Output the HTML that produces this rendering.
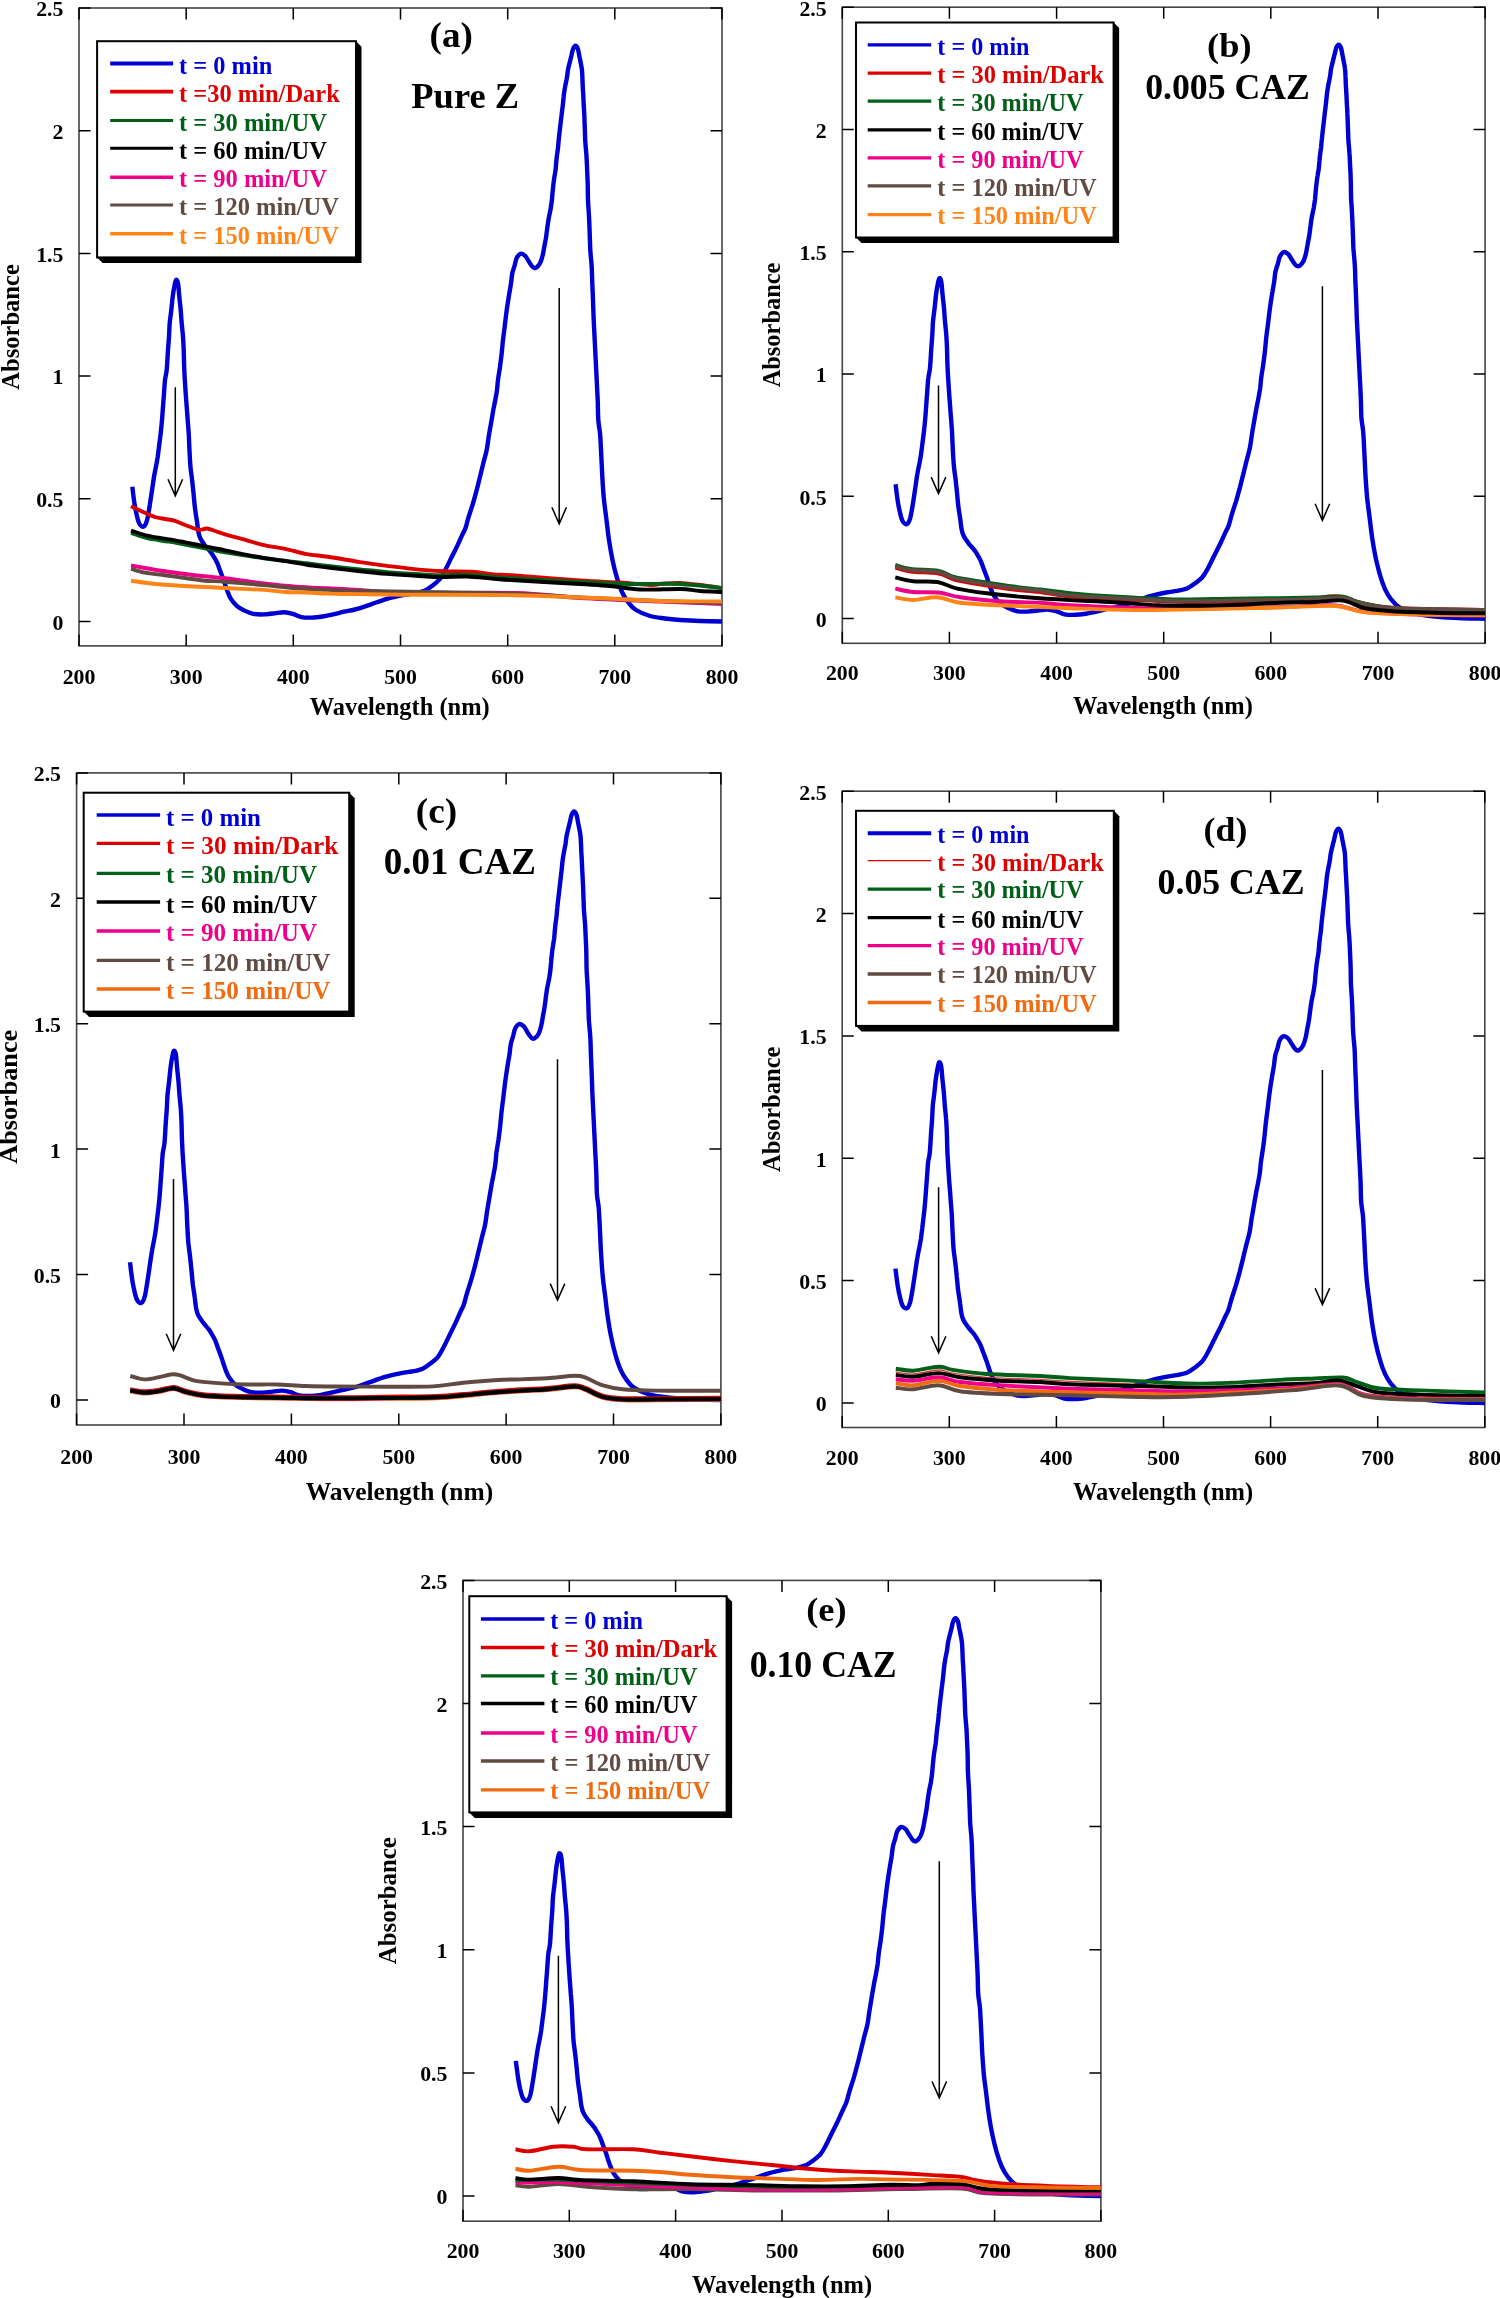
<!DOCTYPE html>
<html><head><meta charset="utf-8"><title>Absorbance spectra</title>
<style>html,body{margin:0;padding:0;background:#fff;}svg{display:block;will-change:transform;}</style></head>
<body>
<svg width="1500" height="2298" viewBox="0 0 1500 2298" font-family='"Liberation Serif", serif' font-weight="bold">
<rect width="1500" height="2298" fill="#fff"/>
<rect x="79.0" y="8.0" width="643.0" height="637.9" fill="none" stroke="#444" stroke-width="1.6"/>
<path d="M79.0,645.9V634.4M79.0,8.0V19.5M186.2,645.9V634.4M186.2,8.0V19.5M293.3,645.9V634.4M293.3,8.0V19.5M400.5,645.9V634.4M400.5,8.0V19.5M507.7,645.9V634.4M507.7,8.0V19.5M614.8,645.9V634.4M614.8,8.0V19.5M722.0,645.9V634.4M722.0,8.0V19.5M79.0,621.4H90.5M722.0,621.4H710.5M79.0,498.7H90.5M722.0,498.7H710.5M79.0,376.0H90.5M722.0,376.0H710.5M79.0,253.4H90.5M722.0,253.4H710.5M79.0,130.7H90.5M722.0,130.7H710.5M79.0,8.0H90.5M722.0,8.0H710.5" stroke="#000" stroke-width="1.5" fill="none"/>
<text x="79.0" y="684.0" font-size="21.8" text-anchor="middle">200</text>
<text x="186.2" y="684.0" font-size="21.8" text-anchor="middle">300</text>
<text x="293.3" y="684.0" font-size="21.8" text-anchor="middle">400</text>
<text x="400.5" y="684.0" font-size="21.8" text-anchor="middle">500</text>
<text x="507.7" y="684.0" font-size="21.8" text-anchor="middle">600</text>
<text x="614.8" y="684.0" font-size="21.8" text-anchor="middle">700</text>
<text x="722.0" y="684.0" font-size="21.8" text-anchor="middle">800</text>
<text x="63.4" y="629.8" font-size="21.8" text-anchor="end">0</text>
<text x="63.4" y="507.1" font-size="21.8" text-anchor="end">0.5</text>
<text x="63.4" y="384.4" font-size="21.8" text-anchor="end">1</text>
<text x="63.4" y="261.8" font-size="21.8" text-anchor="end">1.5</text>
<text x="63.4" y="139.1" font-size="21.8" text-anchor="end">2</text>
<text x="63.4" y="16.4" font-size="21.8" text-anchor="end">2.5</text>
<path d="M132.3,486.7C132.5,488.1 132.9,491.9 133.3,495.0C133.7,498.1 134.1,501.7 134.7,505.0C135.3,508.3 136.0,512.0 136.7,515.0C137.4,518.0 138.2,521.1 139.0,523.0C139.8,524.9 140.8,525.8 141.7,526.3C142.6,526.8 143.8,526.7 144.7,525.7C145.6,524.7 146.3,522.6 147.0,520.3C147.7,518.0 148.2,514.8 148.7,511.7C149.3,508.6 149.7,505.6 150.3,501.7C150.9,497.8 151.6,492.8 152.3,488.3C153.0,483.9 153.6,478.9 154.3,475.0C155.0,471.1 155.7,468.0 156.3,465.0C156.9,462.0 157.2,460.1 157.7,457.0C158.1,453.9 158.5,450.6 159.0,446.7C159.5,442.8 160.2,437.8 160.7,433.3C161.2,428.9 161.6,424.4 162.0,420.0C162.4,415.6 162.7,411.1 163.0,406.7C163.3,402.2 163.7,397.8 164.0,393.3C164.3,388.9 164.6,383.9 165.0,380.0C165.4,376.1 166.2,375.0 166.7,370.0C167.2,365.0 167.6,355.6 168.0,350.0C168.4,344.4 168.7,341.1 169.0,336.7C169.3,332.2 169.3,327.8 169.7,323.3C170.1,318.9 170.8,314.4 171.3,310.0C171.8,305.6 172.2,300.6 172.7,296.7C173.2,292.8 173.7,289.5 174.3,286.7C174.8,283.9 175.4,280.6 176.0,280.0C176.6,279.4 177.4,280.5 178.0,283.3C178.6,286.1 178.8,292.2 179.3,296.7C179.7,301.1 180.3,305.6 180.7,310.0C181.1,314.4 181.3,318.9 181.7,323.3C182.1,327.8 182.7,332.2 183.0,336.7C183.3,341.1 183.5,344.4 183.7,350.0C183.9,355.6 184.0,362.8 184.3,370.0C184.6,377.2 185.3,387.2 185.7,393.3C186.1,399.4 186.4,402.2 186.7,406.7C187.0,411.1 187.4,415.6 187.7,420.0C188.0,424.4 188.4,428.9 188.7,433.3C189.0,437.8 189.1,442.2 189.3,446.7C189.5,451.1 189.8,456.4 190.0,460.0C190.2,463.6 190.2,464.7 190.6,468.3C191.0,471.9 191.8,477.2 192.3,481.7C192.8,486.1 193.2,490.6 193.7,495.0C194.1,499.4 194.4,503.9 195.0,508.3C195.5,512.8 196.4,517.8 197.0,521.7C197.6,525.6 197.8,528.9 198.3,531.7C198.9,534.5 199.2,536.0 200.3,538.3C201.4,540.6 203.3,543.3 205.0,545.5C206.7,547.7 209.0,550.1 210.3,551.7C211.6,553.3 211.7,553.4 212.8,555.2C213.9,557.0 215.8,560.0 217.1,562.7C218.3,565.4 219.2,568.4 220.3,571.2C221.4,574.0 222.4,576.7 223.5,579.7C224.6,582.7 225.5,586.1 226.7,589.3C227.9,592.5 229.1,596.0 230.9,598.9C232.7,601.8 235.0,604.4 237.3,606.4C239.6,608.4 242.1,609.5 244.8,610.7C247.5,612.0 250.1,613.3 253.3,613.9C256.5,614.5 260.4,614.5 264.0,614.4C267.6,614.3 271.3,613.6 274.7,613.3C278.1,612.9 281.3,612.2 284.3,612.3C287.3,612.4 290.0,613.1 292.8,613.9C295.6,614.7 298.1,616.5 301.3,617.1C304.5,617.7 308.4,617.7 312.0,617.6C315.6,617.5 319.1,617.0 322.7,616.5C326.2,616.0 329.8,615.2 333.3,614.4C336.9,613.6 340.4,612.5 344.0,611.7C347.6,610.9 350.5,610.7 355.0,609.5C359.5,608.3 365.7,606.1 371.0,604.3C376.3,602.5 381.7,600.4 387.0,598.9C392.3,597.4 398.6,596.1 403.0,595.2C407.4,594.3 410.2,594.3 413.7,593.6C417.3,592.9 421.3,592.1 424.3,590.9C427.3,589.6 429.3,588.0 431.8,586.1C434.3,584.2 437.2,582.2 439.3,579.7C441.4,577.2 442.7,574.8 444.6,571.2C446.6,567.7 448.9,562.7 451.0,558.4C453.1,554.1 455.4,549.7 457.4,545.6C459.3,541.5 461.3,536.8 462.7,533.9C464.1,531.0 464.5,530.9 465.5,528.0C466.5,525.1 467.4,520.8 468.7,516.7C469.9,512.6 471.7,507.8 473.0,503.3C474.3,498.9 475.5,494.4 476.7,490.0C477.9,485.6 478.9,481.1 480.0,476.7C481.1,472.2 482.2,467.8 483.3,463.3C484.4,458.9 485.8,454.4 486.7,450.0C487.6,445.6 488.0,441.1 488.7,436.7C489.4,432.2 490.2,427.8 491.0,423.3C491.8,418.9 492.6,413.9 493.3,410.0C494.0,406.1 494.7,403.3 495.3,400.0C495.9,396.7 496.6,393.3 497.0,390.0C497.4,386.7 497.5,383.9 498.0,380.0C498.5,376.1 499.4,371.1 500.0,366.7C500.6,362.2 501.2,357.8 501.7,353.3C502.2,348.9 502.5,344.4 503.0,340.0C503.5,335.6 504.1,331.1 504.7,326.7C505.2,322.2 505.8,317.2 506.3,313.3C506.8,309.4 507.2,306.6 507.7,303.3C508.2,300.0 508.8,296.6 509.3,293.3C509.9,290.0 510.5,286.6 511.0,283.3C511.5,280.0 511.7,276.3 512.3,273.3C512.9,270.3 514.0,267.9 514.7,265.3C515.4,262.8 515.7,259.9 516.7,258.0C517.7,256.1 519.3,254.0 520.7,253.7C522.1,253.4 524.0,254.7 525.3,256.0C526.6,257.3 527.5,259.5 528.7,261.3C529.9,263.1 531.5,265.9 532.7,267.0C533.9,268.1 534.8,268.3 536.0,267.7C537.2,267.1 538.9,265.4 540.0,263.3C541.1,261.2 542.0,258.1 542.7,255.3C543.4,252.5 543.7,249.8 544.3,246.7C544.9,243.6 545.6,240.3 546.1,237.0C546.6,233.7 547.0,230.1 547.4,227.0C547.8,223.9 548.2,221.2 548.7,218.3C549.2,215.4 550.0,212.5 550.5,209.6C551.0,206.7 551.4,203.8 551.8,200.9C552.1,198.0 552.3,195.1 552.6,192.2C552.9,189.3 553.2,186.0 553.5,183.5C553.8,181.0 554.1,179.2 554.4,177.0C554.7,174.8 555.2,173.0 555.5,170.5C555.8,168.0 556.0,164.4 556.3,161.8C556.5,159.2 556.7,157.4 557.0,155.2C557.3,153.0 557.6,151.2 557.9,148.7C558.2,146.2 558.4,143.4 558.7,140.0C559.1,136.6 559.5,132.5 560.0,128.3C560.5,124.1 561.1,119.0 561.6,115.0C562.1,111.0 562.5,107.8 562.9,104.3C563.3,100.7 563.6,96.8 564.0,93.7C564.4,90.6 564.8,88.4 565.3,85.7C565.8,83.0 566.5,80.4 566.9,77.7C567.4,75.0 567.5,72.4 568.0,69.7C568.5,67.0 569.3,64.1 569.9,61.7C570.5,59.3 571.0,57.4 571.5,55.3C572.0,53.2 572.4,50.5 573.1,48.9C573.8,47.3 574.7,45.7 575.5,45.7C576.3,45.7 577.3,47.3 577.9,48.9C578.5,50.5 578.8,53.2 579.2,55.3C579.6,57.4 580.0,59.3 580.5,61.7C581.0,64.1 581.6,67.0 581.9,69.7C582.2,72.4 582.3,75.0 582.4,77.7C582.5,80.4 582.6,83.0 582.7,85.7C582.8,88.4 583.0,90.6 583.2,93.7C583.4,96.8 583.5,100.7 583.7,104.3C583.9,107.8 584.1,111.0 584.3,115.0C584.5,119.0 584.6,123.9 584.8,128.3C585.0,132.8 585.0,137.2 585.3,141.7C585.6,146.1 586.1,150.8 586.4,155.0C586.7,159.2 586.8,162.0 587.0,166.7C587.2,171.4 587.5,177.8 587.7,183.3C587.9,188.9 587.8,194.4 588.0,200.0C588.2,205.6 588.7,211.1 589.0,216.7C589.3,222.2 589.5,227.8 589.7,233.3C589.9,238.9 590.0,244.4 590.3,250.0C590.6,255.6 591.4,261.1 591.7,266.7C592.0,272.2 592.1,277.8 592.3,283.3C592.5,288.9 592.8,293.9 593.0,300.0C593.2,306.1 593.4,313.3 593.7,320.0C594.0,326.7 594.4,333.3 594.7,340.0C595.0,346.7 595.4,353.3 595.7,360.0C596.0,366.7 596.4,373.3 596.7,380.0C597.0,386.7 597.4,393.3 597.7,400.0C598.0,406.7 597.9,414.4 598.3,420.0C598.7,425.6 599.5,428.3 600.0,433.3C600.5,438.3 600.8,445.6 601.0,450.0C601.3,454.4 601.2,455.0 601.5,460.0C601.8,465.0 602.1,473.3 602.5,480.0C602.9,486.7 603.3,493.3 604.0,500.0C604.7,506.7 605.7,513.3 606.5,520.0C607.3,526.7 608.0,533.3 609.0,540.0C610.0,546.7 611.2,553.7 612.5,560.0C613.8,566.3 615.4,572.7 617.0,578.0C618.6,583.3 620.2,588.0 622.0,592.0C623.8,596.0 625.7,599.0 628.0,602.0C630.3,605.0 632.3,607.7 636.0,610.0C639.7,612.3 645.2,614.6 650.0,616.0C654.8,617.4 660.0,617.8 665.0,618.5C670.0,619.2 674.2,619.6 680.0,620.0C685.8,620.4 693.0,620.8 700.0,621.0C707.0,621.2 718.3,621.4 722.0,621.5" stroke="#0000d2" stroke-width="4.4" fill="none" stroke-linejoin="round" stroke-linecap="butt"/>
<path d="M131.0,506.3C132.2,506.9 135.6,508.5 138.3,509.7C141.0,510.9 144.2,512.5 147.0,513.7C149.8,514.9 152.0,516.1 155.0,517.0C158.0,517.9 161.8,518.4 165.0,519.0C168.2,519.6 171.0,519.7 174.3,520.7C177.6,521.7 181.6,523.7 185.0,525.0C188.4,526.3 192.6,527.9 195.0,528.7C197.4,529.5 197.7,530.0 199.7,530.0C201.7,530.0 204.4,528.3 207.0,528.5C209.6,528.7 212.0,530.0 215.0,531.0C218.0,532.0 220.4,532.9 225.0,534.3C229.6,535.7 236.2,537.4 242.7,539.2C249.2,541.0 256.9,543.5 264.0,545.1C271.1,546.7 278.2,547.3 285.3,548.8C292.4,550.3 299.6,552.8 306.7,554.1C313.8,555.4 319.1,555.5 328.0,556.8C336.9,558.1 350.2,560.6 360.0,562.1C369.8,563.6 377.2,564.6 387.0,565.9C396.8,567.1 409.4,568.7 419.0,569.6C428.6,570.5 435.7,570.9 444.6,571.2C453.5,571.6 464.1,571.2 472.3,571.7C480.5,572.2 486.6,573.8 493.7,574.4C500.8,575.0 500.6,574.5 515.0,575.5C529.4,576.5 562.5,579.3 580.0,580.5C597.5,581.7 608.3,581.8 620.0,582.5C631.7,583.2 642.5,584.8 650.0,585.0C657.5,585.2 660.0,583.8 665.0,583.5C670.0,583.2 674.2,582.8 680.0,583.0C685.8,583.2 693.0,584.2 700.0,585.0C707.0,585.8 718.3,587.5 722.0,588.0" stroke="#dc0000" stroke-width="3.9" fill="none" stroke-linejoin="round" stroke-linecap="butt"/>
<path d="M131.0,533.0C132.2,533.4 135.6,534.5 138.3,535.3C141.0,536.1 143.7,537.2 147.0,538.0C150.3,538.8 153.6,539.2 158.3,540.0C163.0,540.8 170.6,541.9 175.0,542.6C179.4,543.4 181.1,543.8 185.0,544.5C188.9,545.2 193.9,546.1 198.3,547.0C202.8,547.9 207.2,548.8 211.7,549.7C216.1,550.6 216.3,550.9 225.0,552.3C233.7,553.7 250.4,556.5 264.0,558.3C277.6,560.1 296.0,562.0 306.7,563.3C317.4,564.6 319.1,565.0 328.0,566.0C336.9,567.0 350.2,568.4 360.0,569.4C369.8,570.4 377.2,571.3 387.0,572.1C396.8,572.9 410.1,573.7 419.0,574.2C427.9,574.7 432.3,575.2 440.3,575.3C448.3,575.4 458.1,574.4 467.0,574.7C475.9,575.0 485.7,576.3 493.7,576.9C501.7,577.5 500.6,577.6 515.0,578.5C529.4,579.4 560.8,581.1 580.0,582.0C599.2,582.9 613.3,583.7 630.0,584.0C646.7,584.3 664.7,583.3 680.0,584.0C695.3,584.7 715.0,587.3 722.0,588.0" stroke="#006018" stroke-width="3.9" fill="none" stroke-linejoin="round" stroke-linecap="butt"/>
<path d="M131.0,530.7C132.2,531.1 135.6,532.2 138.3,533.0C141.0,533.8 143.7,534.9 147.0,535.7C150.3,536.5 153.6,536.9 158.3,537.7C163.0,538.5 170.6,539.5 175.0,540.3C179.4,541.1 181.1,541.5 185.0,542.3C188.9,543.1 193.9,544.1 198.3,545.0C202.8,545.9 207.2,546.8 211.7,547.7C216.1,548.6 219.8,549.2 225.0,550.3C230.2,551.4 236.2,552.8 242.7,554.1C249.2,555.4 256.9,556.7 264.0,557.9C271.1,559.1 278.2,560.0 285.3,561.1C292.4,562.2 299.6,563.7 306.7,564.8C313.8,565.9 319.1,566.4 328.0,567.5C336.9,568.6 350.2,570.1 360.0,571.2C369.8,572.3 377.2,573.1 387.0,573.9C396.8,574.7 410.1,575.5 419.0,576.0C427.9,576.5 432.3,577.0 440.3,577.1C448.3,577.2 458.1,576.2 467.0,576.5C475.9,576.8 485.7,578.1 493.7,578.7C501.7,579.3 500.6,579.4 515.0,580.3C529.4,581.2 564.2,583.0 580.0,584.0C595.8,585.0 600.0,585.1 610.0,586.0C620.0,586.9 628.3,589.0 640.0,589.5C651.7,590.0 670.0,588.8 680.0,589.0C690.0,589.2 693.0,590.5 700.0,591.0C707.0,591.5 718.3,591.8 722.0,592.0" stroke="#000000" stroke-width="3.9" fill="none" stroke-linejoin="round" stroke-linecap="butt"/>
<path d="M131.0,565.3C133.3,565.8 139.3,567.0 145.0,568.0C150.7,569.0 158.3,570.3 165.0,571.3C171.7,572.3 178.3,573.2 185.0,574.0C191.7,574.8 198.3,575.6 205.0,576.3C211.7,577.0 215.2,577.1 225.0,578.3C234.8,579.5 252.2,582.1 264.0,583.5C275.8,584.9 285.3,585.9 296.0,586.7C306.7,587.5 317.3,587.8 328.0,588.3C338.7,588.8 347.5,589.1 360.0,589.9C372.5,590.7 377.2,592.5 403.0,593.0C428.8,593.5 485.5,592.2 515.0,593.0C544.5,593.8 555.8,596.6 580.0,598.0C604.2,599.4 640.0,600.7 660.0,601.5C680.0,602.3 689.7,602.6 700.0,603.0C710.3,603.4 718.3,603.8 722.0,604.0" stroke="#ee0088" stroke-width="3.9" fill="none" stroke-linejoin="round" stroke-linecap="butt"/>
<path d="M131.0,568.7C133.3,569.4 139.3,571.6 145.0,572.7C150.7,573.8 158.3,574.4 165.0,575.3C171.7,576.2 178.3,577.1 185.0,578.0C191.7,578.9 198.3,580.1 205.0,580.7C211.7,581.3 215.2,581.0 225.0,581.7C234.8,582.4 252.2,584.0 264.0,585.1C275.8,586.2 285.3,587.5 296.0,588.3C306.7,589.1 317.3,589.4 328.0,589.9C338.7,590.4 328.8,590.4 360.0,591.0C391.2,591.6 478.3,592.5 515.0,593.6C551.7,594.7 555.8,596.3 580.0,597.5C604.2,598.7 636.3,600.1 660.0,601.0C683.7,601.9 711.7,602.7 722.0,603.0" stroke="#604a42" stroke-width="3.9" fill="none" stroke-linejoin="round" stroke-linecap="butt"/>
<path d="M131.0,580.7C133.3,581.0 139.3,582.0 145.0,582.7C150.7,583.4 158.3,584.2 165.0,584.7C171.7,585.2 178.3,585.6 185.0,586.0C191.7,586.4 198.3,586.7 205.0,587.0C211.7,587.3 215.2,587.5 225.0,588.0C234.8,588.5 253.9,589.2 264.0,589.9C274.1,590.6 278.2,591.6 285.3,592.0C292.4,592.4 299.6,592.2 306.7,592.5C313.8,592.8 319.1,593.3 328.0,593.6C336.9,593.9 347.5,593.9 360.0,594.1C372.5,594.3 377.2,594.5 403.0,594.7C428.8,594.9 485.5,594.7 515.0,595.2C544.5,595.7 562.5,596.9 580.0,597.5C597.5,598.1 606.7,598.4 620.0,599.0C633.3,599.6 643.0,600.6 660.0,601.0C677.0,601.4 711.7,601.4 722.0,601.5" stroke="#ff8418" stroke-width="3.9" fill="none" stroke-linejoin="round" stroke-linecap="butt"/>
<rect x="842.3" y="7.2" width="642.8" height="636.1" fill="none" stroke="#444" stroke-width="1.6"/>
<path d="M842.3,643.3V631.8M842.3,7.2V18.7M949.4,643.3V631.8M949.4,7.2V18.7M1056.6,643.3V631.8M1056.6,7.2V18.7M1163.7,643.3V631.8M1163.7,7.2V18.7M1270.8,643.3V631.8M1270.8,7.2V18.7M1378.0,643.3V631.8M1378.0,7.2V18.7M1485.1,643.3V631.8M1485.1,7.2V18.7M842.3,618.6H853.8M1485.1,618.6H1473.6M842.3,496.3H853.8M1485.1,496.3H1473.6M842.3,374.0H853.8M1485.1,374.0H1473.6M842.3,251.8H853.8M1485.1,251.8H1473.6M842.3,129.5H853.8M1485.1,129.5H1473.6M842.3,7.2H853.8M1485.1,7.2H1473.6" stroke="#000" stroke-width="1.5" fill="none"/>
<text x="842.3" y="679.9" font-size="21.8" text-anchor="middle">200</text>
<text x="949.4" y="679.9" font-size="21.8" text-anchor="middle">300</text>
<text x="1056.6" y="679.9" font-size="21.8" text-anchor="middle">400</text>
<text x="1163.7" y="679.9" font-size="21.8" text-anchor="middle">500</text>
<text x="1270.8" y="679.9" font-size="21.8" text-anchor="middle">600</text>
<text x="1378.0" y="679.9" font-size="21.8" text-anchor="middle">700</text>
<text x="1485.1" y="679.9" font-size="21.8" text-anchor="middle">800</text>
<text x="826.7" y="627.0" font-size="21.8" text-anchor="end">0</text>
<text x="826.7" y="504.7" font-size="21.8" text-anchor="end">0.5</text>
<text x="826.7" y="382.4" font-size="21.8" text-anchor="end">1</text>
<text x="826.7" y="260.2" font-size="21.8" text-anchor="end">1.5</text>
<text x="826.7" y="137.9" font-size="21.8" text-anchor="end">2</text>
<text x="826.7" y="15.6" font-size="21.8" text-anchor="end">2.5</text>
<path d="M895.6,484.3C895.8,485.7 896.2,489.6 896.6,492.6C897.0,495.7 897.4,499.3 898.0,502.6C898.5,505.9 899.3,509.6 900.0,512.5C900.7,515.5 901.4,518.6 902.3,520.5C903.1,522.4 904.0,523.4 905.0,523.8C905.9,524.3 907.1,524.2 908.0,523.2C908.9,522.2 909.6,520.2 910.3,517.8C910.9,515.5 911.4,512.3 912.0,509.3C912.5,506.2 913.0,503.2 913.6,499.3C914.2,495.4 914.9,490.4 915.6,485.9C916.2,481.5 916.9,476.5 917.6,472.7C918.2,468.8 919.0,465.7 919.6,462.7C920.1,459.7 920.5,457.8 921.0,454.7C921.4,451.7 921.8,448.4 922.3,444.5C922.8,440.5 923.5,435.5 924.0,431.1C924.5,426.7 924.9,422.3 925.3,417.9C925.7,413.4 925.9,409.0 926.3,404.6C926.6,400.2 926.9,395.7 927.3,391.2C927.6,386.8 927.8,381.9 928.3,378.0C928.7,374.1 929.5,373.0 930.0,368.0C930.5,363.0 930.9,353.6 931.3,348.1C931.7,342.6 932.0,339.3 932.3,334.8C932.6,330.4 932.6,325.9 933.0,321.5C933.4,317.0 934.1,312.6 934.6,308.2C935.1,303.8 935.5,298.8 936.0,295.0C936.5,291.1 937.0,287.8 937.6,285.0C938.1,282.2 938.7,278.9 939.3,278.3C939.9,277.7 940.7,278.8 941.3,281.6C941.8,284.4 942.1,290.5 942.6,295.0C943.0,299.4 943.6,303.8 944.0,308.2C944.4,312.6 944.6,317.0 945.0,321.5C945.4,325.9 945.9,330.4 946.3,334.8C946.6,339.3 946.8,342.6 947.0,348.1C947.2,353.6 947.2,360.8 947.6,368.0C947.9,375.2 948.6,385.1 949.0,391.2C949.4,397.3 949.6,400.2 950.0,404.6C950.3,409.0 950.6,413.4 951.0,417.9C951.3,422.3 951.7,426.7 952.0,431.1C952.2,435.5 952.3,440.0 952.6,444.5C952.8,448.9 953.0,454.1 953.3,457.7C953.5,461.3 953.5,462.4 953.9,466.0C954.2,469.6 955.0,474.9 955.6,479.4C956.1,483.8 956.5,488.2 957.0,492.6C957.4,497.0 957.7,501.4 958.3,505.9C958.8,510.3 959.7,515.3 960.3,519.2C960.8,523.1 961.0,526.4 961.6,529.2C962.1,532.0 962.4,533.5 963.6,535.8C964.7,538.1 966.6,540.7 968.3,542.9C969.9,545.2 972.3,547.5 973.6,549.1C974.9,550.7 974.9,550.8 976.1,552.6C977.2,554.4 979.1,557.4 980.4,560.1C981.6,562.7 982.5,565.7 983.6,568.6C984.6,571.4 985.7,574.0 986.8,577.0C987.8,580.0 988.7,583.4 990.0,586.6C991.2,589.8 992.4,593.3 994.2,596.2C995.9,599.0 998.2,601.7 1000.6,603.6C1002.9,605.6 1005.4,606.7 1008.0,607.9C1010.7,609.2 1013.3,610.5 1016.5,611.1C1019.7,611.7 1023.7,611.7 1027.2,611.6C1030.8,611.5 1034.6,610.9 1037.9,610.5C1041.3,610.2 1044.5,609.4 1047.5,609.5C1050.6,609.6 1053.2,610.3 1056.0,611.1C1058.9,611.9 1061.3,613.7 1064.5,614.3C1067.7,614.9 1071.7,614.9 1075.2,614.8C1078.8,614.7 1082.4,614.2 1085.9,613.7C1089.5,613.2 1093.0,612.4 1096.5,611.6C1100.1,610.8 1103.6,609.7 1107.2,608.9C1110.8,608.1 1113.7,608.0 1118.2,606.7C1122.7,605.5 1128.9,603.3 1134.2,601.6C1139.5,599.8 1144.9,597.7 1150.2,596.2C1155.5,594.7 1161.8,593.4 1166.2,592.5C1170.6,591.6 1173.3,591.6 1176.9,590.9C1180.4,590.2 1184.5,589.4 1187.5,588.2C1190.5,587.0 1192.5,585.3 1195.0,583.4C1197.5,581.6 1200.4,579.5 1202.5,577.0C1204.6,574.6 1205.8,572.1 1207.8,568.6C1209.7,565.0 1212.1,560.1 1214.2,555.8C1216.3,551.6 1218.6,547.1 1220.6,543.0C1222.5,539.0 1224.5,534.3 1225.9,531.4C1227.2,528.5 1227.7,528.4 1228.7,525.5C1229.7,522.6 1230.6,518.3 1231.9,514.2C1233.1,510.1 1234.8,505.3 1236.2,500.9C1237.5,496.4 1238.7,492.0 1239.9,487.6C1241.0,483.2 1242.1,478.8 1243.2,474.4C1244.3,469.9 1245.4,465.5 1246.5,461.0C1247.6,456.6 1249.0,452.2 1249.9,447.8C1250.8,443.3 1251.2,438.9 1251.9,434.5C1252.6,430.1 1253.4,425.6 1254.2,421.1C1254.9,416.7 1255.8,411.8 1256.5,407.9C1257.2,404.0 1257.9,401.2 1258.5,397.9C1259.1,394.6 1259.7,391.3 1260.2,388.0C1260.6,384.6 1260.7,381.9 1261.2,378.0C1261.7,374.1 1262.6,369.2 1263.2,364.7C1263.8,360.3 1264.4,355.8 1264.9,351.4C1265.4,346.9 1265.7,342.5 1266.2,338.1C1266.7,333.7 1267.3,329.3 1267.9,324.9C1268.4,320.4 1269.0,315.4 1269.5,311.5C1270.0,307.6 1270.4,304.9 1270.9,301.5C1271.4,298.2 1271.9,294.9 1272.5,291.6C1273.0,288.2 1273.7,284.9 1274.2,281.6C1274.7,278.3 1274.8,274.6 1275.5,271.6C1276.1,268.6 1277.1,266.2 1277.9,263.7C1278.6,261.1 1278.9,258.3 1279.9,256.4C1280.9,254.5 1282.4,252.4 1283.9,252.1C1285.3,251.8 1287.1,253.1 1288.5,254.4C1289.8,255.7 1290.6,257.8 1291.9,259.7C1293.1,261.5 1294.6,264.3 1295.9,265.4C1297.1,266.4 1297.9,266.7 1299.2,266.1C1300.4,265.4 1302.0,263.7 1303.2,261.7C1304.3,259.6 1305.1,256.5 1305.9,253.7C1306.6,250.9 1306.9,248.2 1307.5,245.1C1308.0,242.1 1308.7,238.7 1309.3,235.5C1309.8,232.2 1310.1,228.6 1310.6,225.5C1311.0,222.4 1311.3,219.7 1311.9,216.8C1312.4,213.9 1313.1,211.0 1313.7,208.1C1314.2,205.3 1314.6,202.4 1315.0,199.5C1315.3,196.6 1315.5,193.7 1315.8,190.8C1316.0,187.9 1316.4,184.7 1316.7,182.1C1317.0,179.6 1317.2,177.8 1317.6,175.6C1317.9,173.5 1318.3,171.7 1318.7,169.2C1319.0,166.6 1319.2,163.0 1319.5,160.5C1319.7,158.0 1319.9,156.1 1320.2,153.9C1320.4,151.7 1320.8,150.0 1321.1,147.4C1321.3,144.9 1321.5,142.2 1321.9,138.8C1322.2,135.4 1322.7,131.3 1323.2,127.1C1323.6,123.0 1324.3,117.8 1324.7,113.9C1325.2,109.9 1325.6,106.7 1326.0,103.2C1326.4,99.6 1326.7,95.7 1327.1,92.6C1327.5,89.5 1328.0,87.3 1328.4,84.6C1328.9,82.0 1329.6,79.3 1330.0,76.7C1330.5,74.0 1330.6,71.4 1331.1,68.7C1331.6,66.0 1332.5,63.1 1333.0,60.7C1333.6,58.3 1334.1,56.5 1334.6,54.3C1335.2,52.2 1335.6,49.6 1336.2,48.0C1336.9,46.4 1337.8,44.8 1338.6,44.8C1339.4,44.8 1340.4,46.4 1341.0,48.0C1341.7,49.6 1341.9,52.2 1342.3,54.3C1342.8,56.5 1343.2,58.3 1343.6,60.7C1344.1,63.1 1344.7,66.0 1345.0,68.7C1345.4,71.4 1345.4,74.0 1345.5,76.7C1345.7,79.3 1345.7,82.0 1345.8,84.6C1346.0,87.3 1346.2,89.5 1346.3,92.6C1346.5,95.7 1346.7,99.6 1346.8,103.2C1347.0,106.7 1347.3,109.9 1347.4,113.9C1347.6,117.8 1347.8,122.7 1347.9,127.1C1348.1,131.5 1348.2,136.0 1348.4,140.5C1348.7,144.9 1349.3,149.6 1349.5,153.7C1349.8,157.9 1349.9,160.7 1350.1,165.4C1350.4,170.1 1350.7,176.4 1350.8,181.9C1351.0,187.5 1350.9,193.0 1351.1,198.6C1351.4,204.1 1351.9,209.7 1352.1,215.2C1352.4,220.8 1352.6,226.2 1352.8,231.8C1353.1,237.3 1353.1,242.9 1353.4,248.4C1353.8,254.0 1354.5,259.5 1354.8,265.1C1355.2,270.6 1355.2,276.1 1355.4,281.6C1355.7,287.1 1355.9,292.2 1356.1,298.2C1356.4,304.3 1356.6,311.5 1356.8,318.2C1357.1,324.8 1357.5,331.5 1357.8,338.1C1358.2,344.8 1358.5,351.4 1358.8,358.1C1359.2,364.7 1359.5,371.3 1359.8,378.0C1360.2,384.6 1360.6,391.3 1360.8,397.9C1361.1,404.6 1361.1,412.3 1361.4,417.9C1361.8,423.4 1362.7,426.1 1363.1,431.1C1363.6,436.1 1363.9,443.3 1364.1,447.8C1364.4,452.2 1364.4,452.7 1364.6,457.7C1364.9,462.7 1365.2,471.0 1365.6,477.7C1366.1,484.3 1366.5,491.0 1367.1,497.6C1367.8,504.2 1368.8,510.9 1369.6,517.5C1370.5,524.2 1371.1,530.8 1372.1,537.5C1373.1,544.1 1374.3,551.1 1375.6,557.4C1377.0,563.7 1378.5,570.0 1380.1,575.3C1381.7,580.7 1383.3,585.3 1385.1,589.3C1387.0,593.3 1388.8,596.3 1391.1,599.3C1393.5,602.3 1395.5,604.9 1399.1,607.2C1402.8,609.6 1408.3,611.8 1413.1,613.2C1418.0,614.6 1423.1,615.0 1428.1,615.7C1433.1,616.4 1437.3,616.8 1443.1,617.2C1448.9,617.6 1456.1,618.0 1463.1,618.2C1470.1,618.5 1481.4,618.6 1485.1,618.7" stroke="#0000d2" stroke-width="4.4" fill="none" stroke-linejoin="round" stroke-linecap="butt"/>
<path d="M895.3,567.5C897.9,568.2 903.5,570.5 910.7,571.5C917.9,572.5 931.2,572.1 938.7,573.5C946.2,574.9 948.0,578.0 956.0,580.0C964.0,582.0 977.2,583.9 986.7,585.5C996.2,587.1 1004.4,588.4 1013.3,589.5C1022.2,590.6 1030.5,590.8 1040.0,592.0C1049.5,593.2 1055.2,595.2 1070.0,596.5C1084.8,597.8 1109.2,598.6 1128.7,599.5C1148.2,600.4 1167.8,601.8 1187.3,602.0C1206.8,602.2 1230.5,601.4 1246.0,601.0C1261.5,600.6 1268.5,599.9 1280.0,599.5C1291.5,599.1 1306.8,599.0 1315.0,598.5C1323.2,598.0 1324.3,596.8 1329.0,596.5C1333.7,596.2 1338.3,596.1 1343.0,597.0C1347.7,597.9 1351.2,600.4 1357.0,602.0C1362.8,603.6 1369.8,605.4 1378.0,606.5C1386.2,607.6 1388.2,607.9 1406.0,608.5C1423.8,609.1 1471.8,609.8 1485.0,610.0" stroke="#dc0000" stroke-width="3.9" fill="none" stroke-linejoin="round" stroke-linecap="butt"/>
<path d="M895.3,565.0C897.9,565.7 903.5,568.0 910.7,569.0C917.9,570.0 931.2,569.6 938.7,571.0C946.2,572.4 948.0,575.6 956.0,577.5C964.0,579.4 977.2,581.0 986.7,582.5C996.2,584.0 1004.4,585.3 1013.3,586.5C1022.2,587.7 1030.5,588.4 1040.0,589.5C1049.5,590.6 1057.7,591.9 1070.0,593.1C1082.3,594.3 1096.9,595.5 1114.0,596.5C1131.1,597.5 1153.2,599.0 1172.7,599.4C1192.2,599.8 1213.4,598.9 1231.3,598.7C1249.2,598.5 1266.0,598.3 1280.0,598.1C1294.0,597.9 1304.5,597.7 1315.0,597.5C1325.5,597.3 1336.0,596.1 1343.0,596.8C1350.0,597.5 1351.2,600.1 1357.0,601.7C1362.8,603.3 1369.8,605.1 1378.0,606.3C1386.2,607.5 1388.2,608.2 1406.0,608.9C1423.8,609.6 1471.8,610.1 1485.0,610.3" stroke="#006018" stroke-width="3.9" fill="none" stroke-linejoin="round" stroke-linecap="butt"/>
<path d="M895.3,566.0C897.9,566.7 903.5,569.0 910.7,570.0C917.9,571.0 931.2,570.5 938.7,572.0C946.2,573.5 948.0,576.7 956.0,578.7C964.0,580.7 977.2,582.5 986.7,584.0C996.2,585.5 1004.4,586.9 1013.3,588.0C1022.2,589.1 1030.5,589.5 1040.0,590.7C1049.5,591.9 1055.2,594.1 1070.0,595.4C1084.8,596.7 1109.2,597.7 1128.7,598.7C1148.2,599.7 1167.8,601.1 1187.3,601.3C1206.8,601.5 1228.9,600.4 1246.0,600.1C1263.1,599.9 1273.8,600.1 1290.0,599.8C1306.2,599.4 1331.8,597.5 1343.0,598.0C1354.2,598.5 1351.2,601.1 1357.0,602.5C1362.8,603.9 1369.8,605.5 1378.0,606.5C1386.2,607.5 1388.2,607.9 1406.0,608.5C1423.8,609.1 1471.8,609.8 1485.0,610.0" stroke="#604a42" stroke-width="3.9" fill="none" stroke-linejoin="round" stroke-linecap="butt"/>
<path d="M895.3,588.7C898.3,589.2 905.8,591.3 913.3,592.0C920.8,592.7 932.2,591.8 940.0,592.7C947.8,593.6 950.0,595.9 960.0,597.3C970.0,598.7 986.7,600.4 1000.0,601.3C1013.3,602.2 1028.3,602.0 1040.0,602.7C1051.7,603.4 1052.8,604.4 1070.0,605.3C1087.2,606.2 1118.8,607.7 1143.3,608.2C1167.8,608.7 1192.2,608.5 1216.7,608.2C1241.2,608.0 1270.1,607.2 1290.0,606.7C1309.9,606.2 1323.7,604.6 1336.0,605.5C1348.3,606.4 1350.0,610.3 1364.0,611.8C1378.0,613.3 1399.8,614.0 1420.0,614.6C1440.2,615.2 1474.2,615.2 1485.0,615.3" stroke="#ee0088" stroke-width="3.9" fill="none" stroke-linejoin="round" stroke-linecap="butt"/>
<path d="M895.3,597.3C898.3,597.8 906.3,600.0 913.3,600.0C920.3,600.0 929.5,596.8 937.3,597.3C945.1,597.8 949.5,601.4 960.0,602.7C970.5,604.0 981.7,604.4 1000.0,605.3C1018.3,606.2 1046.1,607.4 1070.0,608.2C1093.9,609.0 1118.8,610.0 1143.3,610.1C1167.8,610.2 1193.9,609.3 1216.7,608.9C1239.5,608.5 1260.1,608.0 1280.0,607.5C1299.9,607.0 1322.0,605.2 1336.0,606.0C1350.0,606.8 1350.0,610.6 1364.0,612.0C1378.0,613.4 1399.8,614.1 1420.0,614.6C1440.2,615.1 1474.2,615.2 1485.0,615.3" stroke="#ff8418" stroke-width="3.9" fill="none" stroke-linejoin="round" stroke-linecap="butt"/>
<path d="M895.3,577.3C898.3,578.0 906.3,580.5 913.3,581.3C920.3,582.1 930.0,580.8 937.3,582.0C944.6,583.2 949.1,586.8 957.3,588.7C965.5,590.6 975.1,591.9 986.7,593.3C998.3,594.7 1012.8,596.2 1026.7,597.3C1040.6,598.4 1055.5,599.3 1070.0,600.1C1084.5,600.9 1099.3,601.4 1114.0,602.3C1128.7,603.2 1143.3,604.7 1158.0,605.3C1172.7,605.9 1187.3,605.8 1202.0,605.7C1216.7,605.6 1233.0,605.0 1246.0,604.5C1259.0,604.0 1268.5,603.1 1280.0,602.7C1291.5,602.3 1304.5,602.3 1315.0,602.0C1325.5,601.7 1334.8,599.7 1343.0,600.6C1351.2,601.6 1355.8,606.2 1364.0,608.0C1372.2,609.7 1380.3,610.4 1392.0,611.2C1403.7,612.0 1418.5,612.3 1434.0,612.7C1449.5,613.1 1476.5,613.3 1485.0,613.4" stroke="#000000" stroke-width="3.9" fill="none" stroke-linejoin="round" stroke-linecap="butt"/>
<rect x="76.6" y="772.9" width="644.3" height="652.1" fill="none" stroke="#444" stroke-width="1.6"/>
<path d="M76.6,1425.0V1413.5M76.6,772.9V784.4M184.0,1425.0V1413.5M184.0,772.9V784.4M291.4,1425.0V1413.5M291.4,772.9V784.4M398.8,1425.0V1413.5M398.8,772.9V784.4M506.1,1425.0V1413.5M506.1,772.9V784.4M613.5,1425.0V1413.5M613.5,772.9V784.4M720.9,1425.0V1413.5M720.9,772.9V784.4M76.6,1399.9H88.1M720.9,1399.9H709.4M76.6,1274.5H88.1M720.9,1274.5H709.4M76.6,1149.1H88.1M720.9,1149.1H709.4M76.6,1023.7H88.1M720.9,1023.7H709.4M76.6,898.3H88.1M720.9,898.3H709.4M76.6,772.9H88.1M720.9,772.9H709.4" stroke="#000" stroke-width="1.5" fill="none"/>
<text x="76.6" y="1463.8" font-size="21.8" text-anchor="middle">200</text>
<text x="184.0" y="1463.8" font-size="21.8" text-anchor="middle">300</text>
<text x="291.4" y="1463.8" font-size="21.8" text-anchor="middle">400</text>
<text x="398.8" y="1463.8" font-size="21.8" text-anchor="middle">500</text>
<text x="506.1" y="1463.8" font-size="21.8" text-anchor="middle">600</text>
<text x="613.5" y="1463.8" font-size="21.8" text-anchor="middle">700</text>
<text x="720.9" y="1463.8" font-size="21.8" text-anchor="middle">800</text>
<text x="61.0" y="1408.3" font-size="21.8" text-anchor="end">0</text>
<text x="61.0" y="1282.9" font-size="21.8" text-anchor="end">0.5</text>
<text x="61.0" y="1157.5" font-size="21.8" text-anchor="end">1</text>
<text x="61.0" y="1032.1" font-size="21.8" text-anchor="end">1.5</text>
<text x="61.0" y="906.7" font-size="21.8" text-anchor="end">2</text>
<text x="61.0" y="781.3" font-size="21.8" text-anchor="end">2.5</text>
<path d="M130.0,1262.2C130.2,1263.6 130.6,1267.6 131.0,1270.7C131.4,1273.8 131.8,1277.5 132.4,1280.9C133.0,1284.3 133.7,1288.1 134.4,1291.1C135.1,1294.2 135.9,1297.4 136.7,1299.3C137.6,1301.2 138.5,1302.2 139.4,1302.7C140.4,1303.2 141.5,1303.1 142.4,1302.1C143.3,1301.1 144.1,1298.9 144.7,1296.6C145.4,1294.2 145.9,1290.9 146.4,1287.8C147.0,1284.6 147.4,1281.5 148.0,1277.5C148.6,1273.6 149.4,1268.4 150.0,1263.8C150.7,1259.3 151.4,1254.2 152.1,1250.3C152.7,1246.3 153.5,1243.1 154.1,1240.0C154.6,1237.0 155.0,1235.0 155.5,1231.9C155.9,1228.7 156.3,1225.4 156.8,1221.3C157.3,1217.3 158.0,1212.2 158.5,1207.6C159.0,1203.1 159.4,1198.6 159.8,1194.0C160.2,1189.5 160.4,1185.0 160.8,1180.4C161.1,1175.9 161.4,1171.3 161.8,1166.7C162.1,1162.2 162.3,1157.1 162.8,1153.1C163.2,1149.2 164.0,1148.0 164.5,1142.9C165.0,1137.8 165.4,1128.2 165.8,1122.5C166.2,1116.8 166.5,1113.4 166.8,1108.9C167.1,1104.3 167.1,1099.7 167.5,1095.2C167.9,1090.6 168.6,1086.1 169.1,1081.6C169.6,1077.1 170.0,1072.0 170.5,1068.0C171.0,1064.0 171.5,1060.6 172.1,1057.8C172.6,1054.9 173.2,1051.5 173.8,1050.9C174.4,1050.4 175.2,1051.5 175.8,1054.3C176.4,1057.1 176.7,1063.5 177.1,1068.0C177.6,1072.5 178.1,1077.1 178.5,1081.6C178.9,1086.1 179.1,1090.6 179.5,1095.2C179.9,1099.7 180.5,1104.3 180.8,1108.9C181.1,1113.4 181.3,1116.8 181.5,1122.5C181.7,1128.2 181.8,1135.5 182.1,1142.9C182.4,1150.3 183.1,1160.5 183.5,1166.7C183.9,1173.0 184.2,1175.9 184.5,1180.4C184.9,1185.0 185.2,1189.5 185.5,1194.0C185.9,1198.6 186.3,1203.1 186.5,1207.6C186.8,1212.2 186.9,1216.8 187.1,1221.3C187.3,1225.9 187.6,1231.2 187.8,1234.9C188.0,1238.6 188.0,1239.7 188.4,1243.4C188.8,1247.1 189.6,1252.6 190.1,1257.1C190.6,1261.7 191.1,1266.2 191.5,1270.7C192.0,1275.2 192.3,1279.7 192.8,1284.3C193.4,1288.8 194.3,1294.0 194.8,1298.0C195.4,1302.0 195.6,1305.4 196.1,1308.2C196.7,1311.0 197.0,1312.6 198.1,1315.0C199.3,1317.3 201.2,1320.0 202.9,1322.3C204.5,1324.6 206.9,1327.0 208.2,1328.7C209.5,1330.3 209.5,1330.4 210.7,1332.2C211.8,1334.1 213.7,1337.2 215.0,1339.9C216.2,1342.6 217.1,1345.7 218.2,1348.6C219.3,1351.5 220.3,1354.2 221.4,1357.3C222.5,1360.4 223.4,1363.8 224.6,1367.1C225.8,1370.4 227.0,1374.0 228.8,1376.9C230.6,1379.8 232.9,1382.6 235.2,1384.6C237.5,1386.6 240.1,1387.7 242.7,1389.0C245.4,1390.2 248.0,1391.6 251.3,1392.2C254.5,1392.9 258.4,1392.8 262.0,1392.7C265.5,1392.6 269.3,1392.0 272.7,1391.6C276.1,1391.3 279.3,1390.5 282.3,1390.6C285.3,1390.7 288.0,1391.4 290.8,1392.2C293.7,1393.1 296.1,1394.9 299.3,1395.5C302.6,1396.1 306.5,1396.1 310.1,1396.0C313.6,1395.9 317.2,1395.4 320.8,1394.9C324.3,1394.3 327.9,1393.6 331.4,1392.7C335.0,1391.9 338.5,1390.8 342.1,1390.0C345.8,1389.2 348.6,1389.0 353.2,1387.7C357.7,1386.5 363.8,1384.2 369.2,1382.4C374.5,1380.6 379.9,1378.5 385.2,1376.9C390.6,1375.4 396.8,1374.0 401.3,1373.1C405.7,1372.2 408.4,1372.2 412.0,1371.5C415.5,1370.8 419.6,1370.0 422.6,1368.7C425.6,1367.4 427.6,1365.7 430.1,1363.8C432.6,1361.9 435.5,1359.8 437.6,1357.3C439.8,1354.7 441.0,1352.2 442.9,1348.6C444.9,1345.0 447.2,1339.9 449.4,1335.5C451.5,1331.1 453.8,1326.6 455.8,1322.4C457.7,1318.2 459.7,1313.5 461.1,1310.5C462.4,1307.5 462.9,1307.4 463.9,1304.4C464.9,1301.5 465.8,1297.1 467.1,1292.9C468.3,1288.7 470.1,1283.7 471.4,1279.2C472.7,1274.6 473.9,1270.1 475.1,1265.6C476.3,1261.1 477.3,1256.5 478.4,1252.0C479.5,1247.4 480.6,1242.8 481.7,1238.3C482.8,1233.7 484.2,1229.2 485.1,1224.7C486.0,1220.2 486.4,1215.7 487.1,1211.1C487.8,1206.6 488.7,1202.0 489.4,1197.4C490.2,1192.9 491.0,1187.8 491.7,1183.8C492.5,1179.8 493.1,1177.0 493.7,1173.6C494.4,1170.2 495.0,1166.8 495.4,1163.4C495.9,1160.0 495.9,1157.1 496.4,1153.1C496.9,1149.2 497.8,1144.1 498.5,1139.6C499.1,1135.0 499.7,1130.4 500.2,1125.9C500.7,1121.3 501.0,1116.8 501.5,1112.3C502.0,1107.7 502.6,1103.2 503.2,1098.7C503.7,1094.1 504.3,1089.0 504.8,1085.0C505.3,1081.0 505.7,1078.2 506.2,1074.7C506.7,1071.3 507.2,1067.9 507.8,1064.5C508.3,1061.1 509.0,1057.7 509.5,1054.3C510.0,1050.9 510.2,1047.1 510.8,1044.1C511.4,1041.0 512.4,1038.5 513.2,1035.9C513.9,1033.3 514.2,1030.4 515.2,1028.4C516.2,1026.5 517.8,1024.4 519.2,1024.0C520.6,1023.7 522.5,1025.1 523.8,1026.4C525.1,1027.7 526.0,1029.9 527.2,1031.8C528.4,1033.7 530.0,1036.6 531.2,1037.6C532.4,1038.7 533.3,1039.0 534.5,1038.4C535.7,1037.7 537.4,1036.0 538.5,1033.9C539.7,1031.7 540.5,1028.5 541.2,1025.7C542.0,1022.9 542.3,1020.0 542.8,1016.9C543.4,1013.8 544.1,1010.3 544.6,1007.0C545.2,1003.6 545.5,999.9 545.9,996.8C546.4,993.6 546.7,990.8 547.2,987.9C547.8,984.9 548.5,981.9 549.1,979.0C549.6,976.0 550.0,973.0 550.4,970.1C550.7,967.1 550.9,964.1 551.2,961.2C551.4,958.2 551.8,954.9 552.1,952.3C552.4,949.7 552.6,947.9 553.0,945.6C553.3,943.4 553.7,941.6 554.1,939.0C554.4,936.4 554.6,932.7 554.9,930.1C555.1,927.5 555.3,925.6 555.6,923.4C555.8,921.1 556.2,919.3 556.5,916.7C556.8,914.1 556.9,911.3 557.3,907.8C557.6,904.4 558.1,900.1 558.6,895.9C559.1,891.6 559.7,886.4 560.2,882.3C560.7,878.2 561.1,875.0 561.5,871.3C561.9,867.7 562.2,863.7 562.6,860.5C563.0,857.3 563.4,855.0 563.9,852.3C564.4,849.6 565.0,846.9 565.5,844.1C565.9,841.4 566.1,838.7 566.6,836.0C567.1,833.2 567.9,830.2 568.5,827.8C569.1,825.3 569.6,823.4 570.1,821.2C570.6,819.1 571.0,816.3 571.7,814.7C572.4,813.1 573.3,811.4 574.1,811.4C574.9,811.4 575.9,813.1 576.5,814.7C577.1,816.3 577.4,819.1 577.8,821.2C578.2,823.4 578.7,825.3 579.1,827.8C579.6,830.2 580.2,833.2 580.5,836.0C580.8,838.7 580.9,841.4 581.0,844.1C581.2,846.9 581.2,849.6 581.3,852.3C581.5,855.0 581.7,857.3 581.8,860.5C582.0,863.7 582.1,867.7 582.3,871.3C582.5,875.0 582.7,878.2 582.9,882.3C583.1,886.4 583.3,891.3 583.4,895.9C583.6,900.4 583.7,905.0 583.9,909.6C584.2,914.1 584.7,918.9 585.0,923.2C585.3,927.4 585.4,930.3 585.6,935.1C585.8,939.9 586.2,946.4 586.3,952.1C586.5,957.8 586.4,963.5 586.6,969.2C586.8,974.8 587.3,980.6 587.6,986.2C587.9,991.9 588.1,997.5 588.3,1003.2C588.5,1008.9 588.6,1014.6 588.9,1020.3C589.3,1026.0 590.0,1031.7 590.3,1037.3C590.7,1043.0 590.7,1048.6 590.9,1054.3C591.2,1060.0 591.4,1065.1 591.6,1071.4C591.9,1077.6 592.1,1085.0 592.3,1091.8C592.6,1098.6 593.0,1105.4 593.3,1112.3C593.7,1119.1 594.0,1125.9 594.3,1132.7C594.7,1139.5 595.0,1146.3 595.3,1153.1C595.7,1160.0 596.1,1166.8 596.3,1173.6C596.6,1180.4 596.6,1188.4 596.9,1194.0C597.3,1199.7 598.2,1202.5 598.7,1207.6C599.1,1212.7 599.4,1220.2 599.7,1224.7C599.9,1229.2 599.9,1229.8 600.2,1234.9C600.4,1240.0 600.7,1248.6 601.2,1255.4C601.6,1262.2 602.0,1269.0 602.7,1275.8C603.3,1282.6 604.3,1289.4 605.2,1296.3C606.0,1303.1 606.7,1309.9 607.7,1316.7C608.7,1323.5 609.8,1330.7 611.2,1337.1C612.5,1343.6 614.1,1350.1 615.7,1355.5C617.3,1361.0 618.9,1365.8 620.7,1369.8C622.5,1373.9 624.4,1377.0 626.7,1380.1C629.0,1383.1 631.1,1385.9 634.7,1388.2C638.4,1390.6 643.9,1392.9 648.8,1394.4C653.6,1395.8 658.8,1396.3 663.8,1396.9C668.8,1397.6 673.0,1398.0 678.8,1398.5C684.7,1398.9 691.8,1399.2 698.9,1399.5C705.9,1399.7 717.2,1399.9 720.9,1400.0" stroke="#0000d2" stroke-width="4.4" fill="none" stroke-linejoin="round" stroke-linecap="butt"/>
<path d="M130.3,1389.1C132.6,1389.5 139.5,1391.2 144.3,1391.3C149.1,1391.4 154.1,1390.5 159.0,1389.8C163.9,1389.1 169.3,1386.8 173.7,1386.9C178.1,1387.0 180.5,1389.4 185.4,1390.6C190.3,1391.8 195.2,1393.4 203.0,1394.2C210.8,1395.0 220.1,1395.3 232.3,1395.7C244.5,1396.1 259.2,1396.2 276.3,1396.4C293.4,1396.6 317.2,1397.1 335.0,1397.1C352.8,1397.2 366.4,1396.9 383.3,1396.7C400.2,1396.5 423.4,1396.5 436.7,1396.0C450.0,1395.5 454.4,1394.8 463.3,1394.0C472.2,1393.2 480.6,1392.2 490.0,1391.4C499.4,1390.6 510.4,1389.9 520.0,1389.3C529.5,1388.7 538.2,1388.6 547.3,1387.9C556.4,1387.2 568.3,1385.2 574.7,1385.2C581.1,1385.2 581.1,1386.2 585.6,1387.9C590.1,1389.6 595.9,1393.7 602.0,1395.4C608.1,1397.1 613.4,1397.7 622.5,1398.1C631.6,1398.6 640.3,1398.2 656.7,1398.1C673.1,1398.0 710.2,1397.8 720.9,1397.7" stroke="#dc0000" stroke-width="3.9" fill="none" stroke-linejoin="round" stroke-linecap="butt"/>
<path d="M130.3,1391.3C132.6,1391.7 139.5,1393.4 144.3,1393.5C149.1,1393.6 154.1,1392.7 159.0,1392.0C163.9,1391.3 169.3,1389.0 173.7,1389.1C178.1,1389.2 180.5,1391.6 185.4,1392.8C190.3,1394.0 195.2,1395.6 203.0,1396.4C210.8,1397.2 220.1,1397.5 232.3,1397.9C244.5,1398.3 259.2,1398.4 276.3,1398.6C293.4,1398.8 317.2,1399.3 335.0,1399.3C352.8,1399.4 366.4,1399.1 383.3,1398.9C400.2,1398.7 423.4,1398.7 436.7,1398.2C450.0,1397.8 454.4,1397.0 463.3,1396.2C472.2,1395.4 480.6,1394.4 490.0,1393.6C499.4,1392.8 510.4,1392.1 520.0,1391.5C529.5,1390.9 538.2,1390.8 547.3,1390.1C556.4,1389.4 568.3,1387.4 574.7,1387.4C581.1,1387.4 581.1,1388.4 585.6,1390.1C590.1,1391.8 595.9,1395.9 602.0,1397.6C608.1,1399.3 613.4,1399.9 622.5,1400.3C631.6,1400.8 640.3,1400.4 656.7,1400.3C673.1,1400.2 710.2,1400.0 720.9,1399.9" stroke="#f06a10" stroke-width="3.9" fill="none" stroke-linejoin="round" stroke-linecap="butt"/>
<path d="M130.3,1390.7C132.6,1391.1 139.5,1392.8 144.3,1392.9C149.1,1393.0 154.1,1392.1 159.0,1391.4C163.9,1390.7 169.3,1388.4 173.7,1388.5C178.1,1388.6 180.5,1391.0 185.4,1392.2C190.3,1393.4 195.2,1395.0 203.0,1395.8C210.8,1396.6 220.1,1396.9 232.3,1397.3C244.5,1397.7 259.2,1397.8 276.3,1398.0C293.4,1398.2 317.2,1398.7 335.0,1398.7C352.8,1398.8 366.4,1398.5 383.3,1398.3C400.2,1398.1 423.4,1398.0 436.7,1397.6C450.0,1397.1 454.4,1396.4 463.3,1395.6C472.2,1394.8 480.6,1393.8 490.0,1393.0C499.4,1392.2 510.4,1391.5 520.0,1390.9C529.5,1390.3 538.2,1390.2 547.3,1389.5C556.4,1388.8 568.3,1386.8 574.7,1386.8C581.1,1386.8 581.1,1387.8 585.6,1389.5C590.1,1391.2 595.9,1395.3 602.0,1397.0C608.1,1398.7 613.4,1399.2 622.5,1399.7C631.6,1400.2 640.3,1399.8 656.7,1399.7C673.1,1399.6 710.2,1399.4 720.9,1399.3" stroke="#ee0088" stroke-width="3.9" fill="none" stroke-linejoin="round" stroke-linecap="butt"/>
<path d="M130.3,1390.4C132.6,1390.8 139.5,1392.5 144.3,1392.6C149.1,1392.7 154.1,1391.8 159.0,1391.1C163.9,1390.4 169.3,1388.1 173.7,1388.2C178.1,1388.3 180.5,1390.7 185.4,1391.9C190.3,1393.1 195.2,1394.7 203.0,1395.5C210.8,1396.3 220.1,1396.6 232.3,1397.0C244.5,1397.4 259.2,1397.5 276.3,1397.7C293.4,1397.9 317.2,1398.4 335.0,1398.4C352.8,1398.5 366.4,1398.2 383.3,1398.0C400.2,1397.8 423.4,1397.8 436.7,1397.3C450.0,1396.8 454.4,1396.1 463.3,1395.3C472.2,1394.5 480.6,1393.5 490.0,1392.7C499.4,1391.9 510.4,1391.2 520.0,1390.6C529.5,1390.0 538.2,1389.9 547.3,1389.2C556.4,1388.5 568.3,1386.5 574.7,1386.5C581.1,1386.5 581.1,1387.5 585.6,1389.2C590.1,1390.9 595.9,1395.0 602.0,1396.7C608.1,1398.4 613.4,1399.0 622.5,1399.4C631.6,1399.9 640.3,1399.5 656.7,1399.4C673.1,1399.3 710.2,1399.1 720.9,1399.0" stroke="#006018" stroke-width="3.9" fill="none" stroke-linejoin="round" stroke-linecap="butt"/>
<path d="M130.3,1390.4C132.6,1390.8 139.5,1392.5 144.3,1392.6C149.1,1392.7 154.1,1391.8 159.0,1391.1C163.9,1390.4 169.3,1388.1 173.7,1388.2C178.1,1388.3 180.5,1390.7 185.4,1391.9C190.3,1393.1 195.2,1394.7 203.0,1395.5C210.8,1396.3 220.1,1396.6 232.3,1397.0C244.5,1397.4 259.2,1397.5 276.3,1397.7C293.4,1397.9 317.2,1398.4 335.0,1398.4C352.8,1398.5 366.4,1398.2 383.3,1398.0C400.2,1397.8 423.4,1397.8 436.7,1397.3C450.0,1396.8 454.4,1396.1 463.3,1395.3C472.2,1394.5 480.6,1393.5 490.0,1392.7C499.4,1391.9 510.4,1391.2 520.0,1390.6C529.5,1390.0 538.2,1389.9 547.3,1389.2C556.4,1388.5 568.3,1386.5 574.7,1386.5C581.1,1386.5 581.1,1387.5 585.6,1389.2C590.1,1390.9 595.9,1395.0 602.0,1396.7C608.1,1398.4 613.4,1399.0 622.5,1399.4C631.6,1399.9 640.3,1399.5 656.7,1399.4C673.1,1399.3 710.2,1399.1 720.9,1399.0" stroke="#000000" stroke-width="3.9" fill="none" stroke-linejoin="round" stroke-linecap="butt"/>
<path d="M130.3,1376.0C132.6,1376.6 139.5,1379.2 144.3,1379.4C149.1,1379.6 154.3,1378.1 159.0,1377.2C163.7,1376.3 168.5,1374.5 172.2,1374.3C175.9,1374.0 177.1,1374.6 181.0,1375.7C184.9,1376.8 189.6,1379.7 195.7,1380.9C201.8,1382.1 209.1,1382.5 217.7,1383.1C226.2,1383.7 237.2,1384.3 247.0,1384.5C256.8,1384.7 266.5,1384.2 276.3,1384.5C286.1,1384.8 295.9,1385.7 305.7,1386.0C315.5,1386.3 322.1,1386.4 335.0,1386.5C347.9,1386.6 367.0,1386.7 383.3,1386.7C399.6,1386.7 419.4,1387.1 432.7,1386.4C446.0,1385.7 451.5,1383.8 463.3,1382.7C475.1,1381.6 493.9,1380.2 503.3,1379.7C512.8,1379.2 512.7,1379.6 520.0,1379.4C527.3,1379.2 538.2,1378.9 547.3,1378.3C556.4,1377.7 568.3,1375.9 574.7,1375.8C581.1,1375.7 581.1,1376.0 585.6,1377.6C590.1,1379.1 595.9,1383.2 602.0,1385.1C608.1,1387.0 613.4,1388.3 622.5,1389.2C631.6,1390.1 640.3,1390.3 656.7,1390.6C673.1,1390.9 710.2,1390.8 720.9,1390.8" stroke="#604a42" stroke-width="3.9" fill="none" stroke-linejoin="round" stroke-linecap="butt"/>
<rect x="842.2" y="791.2" width="642.6" height="636.3" fill="none" stroke="#444" stroke-width="1.6"/>
<path d="M842.2,1427.5V1416.0M842.2,791.2V802.7M949.3,1427.5V1416.0M949.3,791.2V802.7M1056.4,1427.5V1416.0M1056.4,791.2V802.7M1163.5,1427.5V1416.0M1163.5,791.2V802.7M1270.6,1427.5V1416.0M1270.6,791.2V802.7M1377.7,1427.5V1416.0M1377.7,791.2V802.7M1484.8,1427.5V1416.0M1484.8,791.2V802.7M842.2,1402.9H853.7M1484.8,1402.9H1473.3M842.2,1280.6H853.7M1484.8,1280.6H1473.3M842.2,1158.2H853.7M1484.8,1158.2H1473.3M842.2,1035.9H853.7M1484.8,1035.9H1473.3M842.2,913.5H853.7M1484.8,913.5H1473.3M842.2,791.2H853.7M1484.8,791.2H1473.3" stroke="#000" stroke-width="1.5" fill="none"/>
<text x="842.2" y="1464.5" font-size="21.8" text-anchor="middle">200</text>
<text x="949.3" y="1464.5" font-size="21.8" text-anchor="middle">300</text>
<text x="1056.4" y="1464.5" font-size="21.8" text-anchor="middle">400</text>
<text x="1163.5" y="1464.5" font-size="21.8" text-anchor="middle">500</text>
<text x="1270.6" y="1464.5" font-size="21.8" text-anchor="middle">600</text>
<text x="1377.7" y="1464.5" font-size="21.8" text-anchor="middle">700</text>
<text x="1484.8" y="1464.5" font-size="21.8" text-anchor="middle">800</text>
<text x="826.6" y="1411.3" font-size="21.8" text-anchor="end">0</text>
<text x="826.6" y="1289.0" font-size="21.8" text-anchor="end">0.5</text>
<text x="826.6" y="1166.6" font-size="21.8" text-anchor="end">1</text>
<text x="826.6" y="1044.3" font-size="21.8" text-anchor="end">1.5</text>
<text x="826.6" y="921.9" font-size="21.8" text-anchor="end">2</text>
<text x="826.6" y="799.6" font-size="21.8" text-anchor="end">2.5</text>
<path d="M895.5,1268.6C895.6,1270.0 896.1,1273.8 896.5,1276.9C896.9,1279.9 897.3,1283.5 897.9,1286.8C898.4,1290.1 899.1,1293.8 899.9,1296.8C900.6,1299.8 901.3,1302.9 902.2,1304.8C903.0,1306.7 903.9,1307.6 904.9,1308.1C905.8,1308.5 907.0,1308.5 907.9,1307.5C908.7,1306.5 909.5,1304.4 910.2,1302.1C910.8,1299.8 911.3,1296.6 911.9,1293.5C912.4,1290.4 912.9,1287.4 913.5,1283.5C914.1,1279.6 914.8,1274.6 915.5,1270.2C916.1,1265.7 916.8,1260.8 917.5,1256.9C918.1,1253.0 918.9,1249.9 919.5,1246.9C920.0,1243.9 920.4,1242.0 920.9,1239.0C921.3,1235.9 921.7,1232.6 922.2,1228.7C922.6,1224.7 923.3,1219.8 923.8,1215.3C924.3,1210.9 924.8,1206.5 925.1,1202.1C925.5,1197.6 925.8,1193.2 926.1,1188.8C926.5,1184.4 926.8,1179.9 927.1,1175.4C927.5,1171.0 927.7,1166.0 928.1,1162.2C928.6,1158.3 929.3,1157.2 929.8,1152.2C930.3,1147.2 930.8,1137.8 931.1,1132.3C931.5,1126.7 931.9,1123.4 932.1,1119.0C932.4,1114.6 932.5,1110.1 932.8,1105.6C933.2,1101.2 933.9,1096.8 934.4,1092.4C934.9,1087.9 935.3,1083.0 935.8,1079.1C936.3,1075.2 936.9,1071.9 937.4,1069.1C938.0,1066.4 938.5,1063.0 939.1,1062.4C939.8,1061.9 940.6,1063.0 941.1,1065.7C941.7,1068.5 942.0,1074.7 942.4,1079.1C942.9,1083.5 943.4,1087.9 943.8,1092.4C944.2,1096.8 944.5,1101.2 944.8,1105.6C945.2,1110.1 945.8,1114.6 946.1,1119.0C946.5,1123.4 946.6,1126.7 946.8,1132.3C947.1,1137.8 947.1,1145.0 947.4,1152.2C947.8,1159.4 948.4,1169.3 948.8,1175.4C949.2,1181.5 949.5,1184.4 949.8,1188.8C950.2,1193.2 950.5,1197.6 950.8,1202.1C951.2,1206.5 951.6,1210.9 951.8,1215.3C952.1,1219.8 952.2,1224.2 952.4,1228.7C952.6,1233.1 952.9,1238.4 953.1,1241.9C953.3,1245.5 953.3,1246.6 953.7,1250.2C954.1,1253.8 954.9,1259.1 955.4,1263.6C955.9,1268.0 956.4,1272.4 956.8,1276.9C957.3,1281.3 957.6,1285.7 958.1,1290.1C958.7,1294.6 959.6,1299.6 960.1,1303.5C960.7,1307.4 960.9,1310.7 961.4,1313.4C962.0,1316.2 962.3,1317.7 963.4,1320.0C964.5,1322.3 966.5,1325.0 968.1,1327.2C969.8,1329.4 972.1,1331.8 973.4,1333.4C974.7,1335.0 974.8,1335.1 975.9,1336.9C977.0,1338.7 979.0,1341.7 980.2,1344.4C981.5,1347.0 982.3,1350.0 983.4,1352.8C984.5,1355.7 985.5,1358.3 986.6,1361.3C987.7,1364.3 988.6,1367.7 989.8,1370.9C991.0,1374.1 992.2,1377.6 994.0,1380.5C995.8,1383.3 998.1,1386.0 1000.4,1387.9C1002.7,1389.9 1005.2,1391.0 1007.9,1392.2C1010.6,1393.5 1013.2,1394.8 1016.4,1395.4C1019.6,1396.0 1023.5,1396.0 1027.1,1395.9C1030.6,1395.8 1034.4,1395.2 1037.8,1394.8C1041.2,1394.5 1044.4,1393.7 1047.4,1393.8C1050.4,1393.9 1053.0,1394.6 1055.9,1395.4C1058.7,1396.2 1061.2,1398.0 1064.4,1398.6C1067.6,1399.2 1071.5,1399.2 1075.1,1399.1C1078.6,1399.0 1082.2,1398.5 1085.7,1398.0C1089.3,1397.5 1092.8,1396.7 1096.3,1395.9C1099.9,1395.1 1103.4,1394.0 1107.0,1393.2C1110.6,1392.4 1113.5,1392.3 1118.0,1391.0C1122.5,1389.8 1128.7,1387.6 1134.0,1385.8C1139.3,1384.1 1144.7,1382.0 1150.0,1380.5C1155.3,1378.9 1161.6,1377.7 1166.0,1376.8C1170.4,1375.9 1173.1,1375.9 1176.7,1375.2C1180.2,1374.5 1184.3,1373.7 1187.3,1372.5C1190.3,1371.2 1192.3,1369.6 1194.8,1367.7C1197.3,1365.8 1200.1,1363.8 1202.3,1361.3C1204.4,1358.8 1205.6,1356.4 1207.6,1352.8C1209.5,1349.3 1211.8,1344.3 1214.0,1340.1C1216.1,1335.8 1218.4,1331.4 1220.4,1327.3C1222.3,1323.2 1224.3,1318.6 1225.7,1315.6C1227.0,1312.7 1227.5,1312.6 1228.5,1309.8C1229.5,1306.9 1230.4,1302.6 1231.7,1298.5C1232.9,1294.4 1234.6,1289.6 1236.0,1285.1C1237.3,1280.7 1238.5,1276.3 1239.7,1271.9C1240.8,1267.4 1241.9,1263.0 1243.0,1258.6C1244.0,1254.2 1245.1,1249.7 1246.2,1245.2C1247.4,1240.8 1248.7,1236.4 1249.6,1232.0C1250.5,1227.6 1250.9,1223.1 1251.6,1218.7C1252.4,1214.3 1253.2,1209.8 1253.9,1205.3C1254.7,1200.9 1255.5,1196.0 1256.2,1192.1C1257.0,1188.2 1257.6,1185.4 1258.2,1182.1C1258.9,1178.8 1259.5,1175.5 1259.9,1172.1C1260.4,1168.8 1260.4,1166.0 1260.9,1162.2C1261.4,1158.3 1262.3,1153.3 1262.9,1148.9C1263.6,1144.5 1264.1,1140.0 1264.6,1135.5C1265.1,1131.1 1265.4,1126.7 1265.9,1122.3C1266.4,1117.9 1267.1,1113.5 1267.6,1109.0C1268.2,1104.6 1268.7,1099.5 1269.2,1095.7C1269.7,1091.8 1270.1,1089.0 1270.6,1085.7C1271.1,1082.4 1271.7,1079.0 1272.2,1075.7C1272.8,1072.4 1273.4,1069.1 1273.9,1065.7C1274.4,1062.4 1274.6,1058.8 1275.2,1055.8C1275.8,1052.8 1276.9,1050.3 1277.6,1047.8C1278.4,1045.2 1278.6,1042.4 1279.6,1040.5C1280.6,1038.6 1282.2,1036.6 1283.6,1036.2C1285.1,1035.9 1286.9,1037.2 1288.2,1038.5C1289.6,1039.8 1290.4,1042.0 1291.6,1043.8C1292.9,1045.6 1294.4,1048.4 1295.6,1049.5C1296.8,1050.5 1297.7,1050.8 1298.9,1050.2C1300.1,1049.6 1301.8,1047.9 1302.9,1045.8C1304.0,1043.7 1304.9,1040.6 1305.6,1037.8C1306.3,1035.1 1306.6,1032.3 1307.2,1029.2C1307.8,1026.2 1308.5,1022.8 1309.0,1019.6C1309.5,1016.3 1309.9,1012.7 1310.3,1009.6C1310.7,1006.5 1311.1,1003.8 1311.6,1000.9C1312.1,998.0 1312.9,995.1 1313.4,992.2C1313.9,989.3 1314.4,986.5 1314.7,983.6C1315.1,980.7 1315.2,977.8 1315.5,974.9C1315.8,972.0 1316.1,968.7 1316.4,966.2C1316.7,963.7 1317.0,961.9 1317.3,959.7C1317.6,957.6 1318.1,955.8 1318.4,953.2C1318.7,950.7 1319.0,947.1 1319.2,944.6C1319.5,942.0 1319.6,940.2 1319.9,938.0C1320.2,935.8 1320.5,934.0 1320.8,931.5C1321.1,929.0 1321.3,926.2 1321.6,922.8C1322.0,919.4 1322.4,915.3 1322.9,911.2C1323.4,907.0 1324.0,901.9 1324.5,897.9C1325.0,893.9 1325.4,890.8 1325.8,887.2C1326.2,883.7 1326.5,879.8 1326.9,876.7C1327.3,873.6 1327.7,871.3 1328.2,868.7C1328.7,866.0 1329.3,863.4 1329.8,860.7C1330.2,858.0 1330.4,855.4 1330.9,852.7C1331.4,850.1 1332.2,847.1 1332.8,844.8C1333.4,842.4 1333.9,840.5 1334.4,838.4C1334.9,836.2 1335.3,833.6 1336.0,832.0C1336.7,830.4 1337.6,828.8 1338.4,828.8C1339.2,828.8 1340.2,830.4 1340.8,832.0C1341.4,833.6 1341.7,836.2 1342.1,838.4C1342.5,840.5 1342.9,842.4 1343.4,844.8C1343.8,847.1 1344.5,850.1 1344.8,852.7C1345.1,855.4 1345.2,858.0 1345.3,860.7C1345.4,863.4 1345.5,866.0 1345.6,868.7C1345.7,871.3 1345.9,873.6 1346.1,876.7C1346.3,879.8 1346.4,883.7 1346.6,887.2C1346.8,890.8 1347.0,893.9 1347.2,897.9C1347.4,901.9 1347.5,906.7 1347.7,911.2C1347.9,915.6 1347.9,920.1 1348.2,924.5C1348.5,929.0 1349.0,933.6 1349.3,937.8C1349.6,941.9 1349.7,944.8 1349.9,949.5C1350.1,954.2 1350.4,960.5 1350.6,966.0C1350.8,971.5 1350.7,977.1 1350.9,982.7C1351.1,988.2 1351.6,993.8 1351.9,999.3C1352.2,1004.9 1352.4,1010.3 1352.6,1015.9C1352.8,1021.4 1352.8,1027.0 1353.2,1032.5C1353.5,1038.1 1354.2,1043.6 1354.6,1049.2C1354.9,1054.7 1355.0,1060.2 1355.2,1065.7C1355.4,1071.3 1355.6,1076.3 1355.9,1082.4C1356.1,1088.5 1356.3,1095.7 1356.6,1102.3C1356.9,1109.0 1357.2,1115.6 1357.6,1122.3C1357.9,1128.9 1358.2,1135.6 1358.6,1142.2C1358.9,1148.9 1359.2,1155.5 1359.6,1162.2C1359.9,1168.8 1360.3,1175.5 1360.6,1182.1C1360.8,1188.8 1360.8,1196.5 1361.2,1202.1C1361.6,1207.6 1362.4,1210.3 1362.9,1215.3C1363.3,1220.3 1363.6,1227.5 1363.9,1232.0C1364.1,1236.4 1364.1,1237.0 1364.4,1241.9C1364.6,1246.9 1365.0,1255.2 1365.4,1261.9C1365.8,1268.5 1366.2,1275.2 1366.9,1281.8C1367.5,1288.5 1368.5,1295.1 1369.4,1301.8C1370.2,1308.4 1370.9,1315.1 1371.9,1321.7C1372.9,1328.4 1374.0,1335.4 1375.4,1341.7C1376.7,1348.0 1378.3,1354.3 1379.9,1359.6C1381.4,1364.9 1383.0,1369.6 1384.9,1373.6C1386.7,1377.6 1388.5,1380.6 1390.9,1383.6C1393.2,1386.5 1395.2,1389.2 1398.9,1391.5C1402.5,1393.9 1408.0,1396.1 1412.8,1397.5C1417.7,1398.9 1422.8,1399.3 1427.8,1400.0C1432.8,1400.7 1437.0,1401.1 1442.8,1401.5C1448.7,1401.9 1455.8,1402.3 1462.8,1402.5C1469.8,1402.8 1481.1,1402.9 1484.8,1403.0" stroke="#0000d2" stroke-width="4.4" fill="none" stroke-linejoin="round" stroke-linecap="butt"/>
<path d="M895.8,1372.0C898.7,1372.3 906.1,1374.3 913.3,1374.0C920.4,1373.7 932.0,1370.1 938.7,1370.0C945.4,1369.9 945.3,1372.1 953.3,1373.3C961.3,1374.5 972.2,1376.3 986.7,1377.3C1001.2,1378.3 1026.1,1378.6 1040.0,1379.3C1053.9,1380.0 1055.2,1380.6 1070.0,1381.4C1084.8,1382.2 1109.2,1383.0 1128.7,1383.9C1148.2,1384.8 1170.2,1386.4 1187.3,1386.8C1204.4,1387.2 1215.8,1386.7 1231.3,1386.1C1246.8,1385.5 1266.0,1383.9 1280.0,1383.2C1294.0,1382.5 1304.5,1382.2 1315.0,1381.8C1325.5,1381.4 1336.0,1380.2 1343.0,1380.8C1350.0,1381.4 1351.2,1383.5 1357.0,1385.3C1362.8,1387.1 1367.5,1390.2 1378.0,1391.6C1388.5,1393.0 1402.2,1393.0 1420.0,1393.7C1437.8,1394.4 1474.2,1395.5 1485.0,1395.8" stroke="#e23a3a" stroke-width="1.3" fill="none" stroke-linejoin="round" stroke-linecap="butt"/>
<path d="M895.8,1368.7C898.7,1369.0 906.1,1371.0 913.3,1370.7C920.4,1370.4 932.0,1366.8 938.7,1366.7C945.4,1366.6 945.3,1368.8 953.3,1370.0C961.3,1371.2 972.2,1373.0 986.7,1374.0C1001.2,1375.0 1026.1,1375.3 1040.0,1376.0C1053.9,1376.7 1055.2,1377.3 1070.0,1378.1C1084.8,1378.9 1109.2,1379.7 1128.7,1380.6C1148.2,1381.5 1170.2,1383.1 1187.3,1383.5C1204.4,1383.9 1215.8,1383.4 1231.3,1382.8C1246.8,1382.2 1266.0,1380.6 1280.0,1379.9C1294.0,1379.2 1304.5,1378.9 1315.0,1378.5C1325.5,1378.1 1336.0,1376.9 1343.0,1377.5C1350.0,1378.1 1351.2,1380.2 1357.0,1382.0C1362.8,1383.8 1367.5,1386.9 1378.0,1388.3C1388.5,1389.7 1402.2,1389.7 1420.0,1390.4C1437.8,1391.1 1474.2,1392.2 1485.0,1392.5" stroke="#006018" stroke-width="3.9" fill="none" stroke-linejoin="round" stroke-linecap="butt"/>
<path d="M895.8,1374.9C898.7,1375.2 906.1,1377.0 913.3,1376.7C920.4,1376.4 930.9,1373.0 938.7,1373.1C946.5,1373.2 949.8,1376.0 960.0,1377.3C970.2,1378.6 986.7,1379.9 1000.0,1380.7C1013.3,1381.5 1028.3,1381.4 1040.0,1382.0C1051.7,1382.6 1055.2,1383.7 1070.0,1384.3C1084.8,1384.9 1109.2,1385.2 1128.7,1385.7C1148.2,1386.2 1170.2,1387.2 1187.3,1387.5C1204.4,1387.8 1215.8,1387.7 1231.3,1387.2C1246.8,1386.7 1266.0,1385.2 1280.0,1384.5C1294.0,1383.8 1305.2,1383.8 1315.0,1383.1C1324.8,1382.4 1331.8,1380.1 1338.8,1380.6C1345.8,1381.1 1350.5,1384.2 1357.0,1386.2C1363.5,1388.2 1367.5,1391.1 1378.0,1392.5C1388.5,1393.9 1402.2,1394.0 1420.0,1394.6C1437.8,1395.2 1474.2,1395.8 1485.0,1396.0" stroke="#000000" stroke-width="3.9" fill="none" stroke-linejoin="round" stroke-linecap="butt"/>
<path d="M895.8,1379.3C898.7,1379.5 906.1,1381.0 913.3,1380.7C920.4,1380.4 930.9,1377.1 938.7,1377.3C946.5,1377.5 949.8,1380.7 960.0,1382.0C970.2,1383.3 981.7,1384.2 1000.0,1385.3C1018.3,1386.4 1048.5,1387.9 1070.0,1388.7C1091.5,1389.5 1109.2,1389.7 1128.7,1390.1C1148.2,1390.5 1160.4,1391.7 1187.3,1391.3C1214.2,1390.9 1264.8,1389.1 1290.0,1387.9C1315.2,1386.7 1326.5,1383.2 1338.8,1384.3C1351.1,1385.4 1352.8,1392.2 1364.0,1394.5C1375.2,1396.8 1385.8,1397.5 1406.0,1398.3C1426.2,1399.0 1471.8,1398.9 1485.0,1399.0" stroke="#ee0088" stroke-width="3.9" fill="none" stroke-linejoin="round" stroke-linecap="butt"/>
<path d="M895.8,1383.3C898.7,1383.6 906.1,1385.7 913.3,1385.3C920.4,1384.9 930.9,1380.6 938.7,1380.7C946.5,1380.8 949.8,1384.5 960.0,1386.0C970.2,1387.5 981.7,1389.0 1000.0,1390.0C1018.3,1391.0 1048.5,1391.7 1070.0,1392.3C1091.5,1392.9 1109.2,1393.0 1128.7,1393.4C1148.2,1393.8 1160.4,1395.2 1187.3,1394.5C1214.2,1393.8 1264.8,1391.0 1290.0,1389.4C1315.2,1387.8 1326.5,1384.0 1338.8,1385.0C1351.1,1386.0 1352.8,1393.2 1364.0,1395.5C1375.2,1397.8 1385.8,1398.3 1406.0,1399.0C1426.2,1399.7 1471.8,1399.4 1485.0,1399.5" stroke="#f06a10" stroke-width="3.9" fill="none" stroke-linejoin="round" stroke-linecap="butt"/>
<path d="M895.8,1387.7C898.7,1388.0 906.1,1389.7 913.3,1389.3C920.4,1388.9 930.9,1385.0 938.7,1385.3C946.5,1385.6 949.8,1389.8 960.0,1391.3C970.2,1392.8 981.7,1393.3 1000.0,1394.0C1018.3,1394.7 1048.5,1394.8 1070.0,1395.3C1091.5,1395.8 1109.2,1396.5 1128.7,1396.7C1148.2,1396.9 1160.4,1397.8 1187.3,1396.7C1214.2,1395.7 1264.8,1392.3 1290.0,1390.4C1315.2,1388.5 1326.5,1384.6 1338.8,1385.5C1351.1,1386.4 1352.8,1393.7 1364.0,1396.0C1375.2,1398.3 1385.8,1398.8 1406.0,1399.5C1426.2,1400.2 1471.8,1399.9 1485.0,1400.0" stroke="#604a42" stroke-width="3.9" fill="none" stroke-linejoin="round" stroke-linecap="butt"/>
<rect x="463.0" y="1580.4" width="637.9" height="640.8" fill="none" stroke="#444" stroke-width="1.6"/>
<path d="M463.0,2221.2V2209.7M463.0,1580.4V1591.9M569.3,2221.2V2209.7M569.3,1580.4V1591.9M675.6,2221.2V2209.7M675.6,1580.4V1591.9M782.0,2221.2V2209.7M782.0,1580.4V1591.9M888.3,2221.2V2209.7M888.3,1580.4V1591.9M994.6,2221.2V2209.7M994.6,1580.4V1591.9M1100.9,2221.2V2209.7M1100.9,1580.4V1591.9M463.0,2196.0H474.5M1100.9,2196.0H1089.4M463.0,2072.9H474.5M1100.9,2072.9H1089.4M463.0,1949.8H474.5M1100.9,1949.8H1089.4M463.0,1826.6H474.5M1100.9,1826.6H1089.4M463.0,1703.5H474.5M1100.9,1703.5H1089.4M463.0,1580.4H474.5M1100.9,1580.4H1089.4" stroke="#000" stroke-width="1.5" fill="none"/>
<text x="463.0" y="2258.3" font-size="21.8" text-anchor="middle">200</text>
<text x="569.3" y="2258.3" font-size="21.8" text-anchor="middle">300</text>
<text x="675.6" y="2258.3" font-size="21.8" text-anchor="middle">400</text>
<text x="782.0" y="2258.3" font-size="21.8" text-anchor="middle">500</text>
<text x="888.3" y="2258.3" font-size="21.8" text-anchor="middle">600</text>
<text x="994.6" y="2258.3" font-size="21.8" text-anchor="middle">700</text>
<text x="1100.9" y="2258.3" font-size="21.8" text-anchor="middle">800</text>
<text x="447.4" y="2204.4" font-size="21.8" text-anchor="end">0</text>
<text x="447.4" y="2081.3" font-size="21.8" text-anchor="end">0.5</text>
<text x="447.4" y="1958.2" font-size="21.8" text-anchor="end">1</text>
<text x="447.4" y="1835.0" font-size="21.8" text-anchor="end">1.5</text>
<text x="447.4" y="1711.9" font-size="21.8" text-anchor="end">2</text>
<text x="447.4" y="1588.8" font-size="21.8" text-anchor="end">2.5</text>
<path d="M515.9,2060.8C516.0,2062.2 516.5,2066.1 516.9,2069.1C517.3,2072.2 517.7,2075.8 518.3,2079.2C518.8,2082.5 519.5,2086.2 520.2,2089.2C521.0,2092.2 521.7,2095.4 522.5,2097.2C523.4,2099.1 524.3,2100.1 525.2,2100.6C526.1,2101.0 527.3,2101.0 528.2,2100.0C529.1,2099.0 529.8,2096.9 530.5,2094.5C531.1,2092.2 531.6,2089.0 532.1,2085.9C532.7,2082.8 533.1,2079.8 533.7,2075.9C534.3,2072.0 535.1,2066.9 535.7,2062.4C536.4,2058.0 537.0,2053.0 537.7,2049.1C538.4,2045.2 539.1,2042.0 539.7,2039.0C540.2,2036.0 540.6,2034.1 541.1,2031.0C541.5,2027.9 541.9,2024.6 542.4,2020.7C542.9,2016.7 543.6,2011.7 544.1,2007.2C544.5,2002.8 545.0,1998.3 545.3,1993.9C545.7,1989.4 546.0,1985.0 546.3,1980.5C546.7,1976.1 547.0,1971.5 547.3,1967.1C547.7,1962.6 547.9,1957.6 548.3,1953.7C548.8,1949.8 549.5,1948.7 550.0,1943.7C550.5,1938.7 550.9,1929.2 551.3,1923.6C551.7,1918.1 552.0,1914.7 552.3,1910.3C552.6,1905.8 552.6,1901.3 553.0,1896.8C553.4,1892.4 554.1,1887.9 554.6,1883.5C555.1,1879.0 555.5,1874.0 556.0,1870.1C556.5,1866.2 557.0,1862.9 557.5,1860.1C558.1,1857.3 558.6,1853.9 559.2,1853.4C559.8,1852.8 560.7,1853.9 561.2,1856.7C561.8,1859.5 562.1,1865.7 562.5,1870.1C563.0,1874.6 563.5,1879.0 563.9,1883.5C564.3,1887.9 564.5,1892.4 564.9,1896.8C565.3,1901.3 565.8,1905.8 566.2,1910.3C566.5,1914.7 566.7,1918.1 566.9,1923.6C567.1,1929.2 567.1,1936.5 567.5,1943.7C567.8,1950.9 568.5,1960.9 568.9,1967.1C569.3,1973.2 569.5,1976.1 569.8,1980.5C570.2,1985.0 570.5,1989.4 570.8,1993.9C571.2,1998.3 571.6,2002.8 571.8,2007.2C572.1,2011.7 572.2,2016.2 572.4,2020.7C572.6,2025.1 572.9,2030.4 573.1,2034.0C573.3,2037.6 573.3,2038.7 573.7,2042.4C574.1,2046.0 574.9,2051.3 575.4,2055.8C575.9,2060.3 576.3,2064.7 576.8,2069.1C577.2,2073.6 577.5,2078.0 578.1,2082.5C578.6,2087.0 579.5,2092.0 580.1,2095.9C580.6,2099.9 580.8,2103.2 581.4,2106.0C581.9,2108.8 582.2,2110.3 583.3,2112.6C584.4,2114.9 586.3,2117.6 588.0,2119.8C589.7,2122.1 592.0,2124.4 593.3,2126.1C594.5,2127.7 594.6,2127.7 595.7,2129.6C596.9,2131.4 598.8,2134.4 600.0,2137.1C601.2,2139.8 602.1,2142.8 603.2,2145.6C604.2,2148.5 605.3,2151.1 606.4,2154.2C607.4,2157.2 608.3,2160.6 609.5,2163.8C610.8,2167.0 611.9,2170.6 613.7,2173.4C615.4,2176.3 617.7,2179.0 620.0,2180.9C622.3,2182.9 624.8,2184.0 627.5,2185.3C630.1,2186.5 632.7,2187.9 635.9,2188.5C639.1,2189.1 643.0,2189.1 646.5,2189.0C650.1,2188.9 653.8,2188.2 657.1,2187.9C660.5,2187.5 663.7,2186.8 666.7,2186.9C669.7,2187.0 672.3,2187.7 675.1,2188.5C677.9,2189.3 680.4,2191.1 683.5,2191.7C686.7,2192.3 690.6,2192.3 694.2,2192.2C697.7,2192.1 701.2,2191.6 704.8,2191.1C708.3,2190.5 711.8,2189.8 715.3,2189.0C718.8,2188.2 722.3,2187.1 725.9,2186.3C729.5,2185.4 732.3,2185.3 736.8,2184.1C741.3,2182.8 747.4,2180.6 752.7,2178.8C758.0,2177.1 763.3,2174.9 768.6,2173.4C773.8,2171.9 780.0,2170.6 784.4,2169.7C788.8,2168.8 791.5,2168.8 795.0,2168.1C798.6,2167.4 802.6,2166.6 805.6,2165.4C808.6,2164.1 810.5,2162.4 813.0,2160.6C815.5,2158.7 818.3,2156.6 820.4,2154.2C822.6,2151.7 823.8,2149.2 825.7,2145.6C827.6,2142.1 829.9,2137.1 832.0,2132.8C834.2,2128.5 836.5,2124.0 838.4,2119.9C840.3,2115.8 842.3,2111.1 843.7,2108.2C845.0,2105.2 845.4,2105.1 846.4,2102.3C847.4,2099.4 848.4,2095.1 849.6,2090.9C850.8,2086.8 852.6,2081.9 853.9,2077.5C855.2,2073.0 856.4,2068.6 857.5,2064.1C858.7,2059.7 859.7,2055.2 860.8,2050.8C861.9,2046.3 863.0,2041.8 864.1,2037.3C865.2,2032.9 866.6,2028.4 867.5,2024.0C868.4,2019.5 868.7,2015.1 869.5,2010.6C870.2,2006.2 871.0,2001.7 871.7,1997.2C872.5,1992.7 873.3,1987.7 874.0,1983.8C874.7,1979.9 875.4,1977.2 876.0,1973.8C876.6,1970.5 877.2,1967.1 877.7,1963.8C878.1,1960.4 878.2,1957.6 878.7,1953.7C879.2,1949.8 880.0,1944.9 880.7,1940.4C881.3,1935.9 881.9,1931.4 882.3,1926.9C882.8,1922.5 883.1,1918.0 883.6,1913.6C884.1,1909.1 884.8,1904.7 885.3,1900.2C885.9,1895.8 886.4,1890.7 886.9,1886.8C887.4,1882.9 887.8,1880.1 888.3,1876.8C888.8,1873.4 889.3,1870.1 889.9,1866.7C890.4,1863.4 891.1,1860.0 891.6,1856.7C892.1,1853.3 892.3,1849.7 892.9,1846.7C893.5,1843.6 894.5,1841.2 895.2,1838.6C896.0,1836.1 896.2,1833.2 897.2,1831.3C898.2,1829.4 899.8,1827.3 901.2,1827.0C902.6,1826.6 904.4,1828.0 905.8,1829.3C907.1,1830.6 907.9,1832.8 909.1,1834.6C910.4,1836.4 911.9,1839.3 913.1,1840.3C914.3,1841.4 915.2,1841.7 916.4,1841.0C917.6,1840.4 919.2,1838.7 920.3,1836.6C921.5,1834.5 922.3,1831.4 923.0,1828.6C923.7,1825.8 924.0,1823.0 924.6,1820.0C925.2,1816.9 925.9,1813.5 926.4,1810.2C926.9,1806.9 927.3,1803.3 927.7,1800.2C928.1,1797.1 928.5,1794.4 929.0,1791.5C929.5,1788.5 930.2,1785.6 930.8,1782.7C931.3,1779.8 931.7,1776.9 932.0,1774.0C932.4,1771.1 932.6,1768.2 932.8,1765.3C933.1,1762.4 933.4,1759.1 933.7,1756.5C934.0,1754.0 934.3,1752.2 934.6,1750.0C935.0,1747.8 935.4,1746.0 935.7,1743.5C936.0,1740.9 936.3,1737.3 936.5,1734.8C936.8,1732.2 936.9,1730.3 937.2,1728.1C937.5,1725.9 937.8,1724.1 938.1,1721.6C938.4,1719.1 938.5,1716.3 938.9,1712.9C939.2,1709.5 939.7,1705.3 940.2,1701.1C940.7,1696.9 941.3,1691.8 941.8,1687.8C942.3,1683.8 942.7,1680.6 943.1,1677.0C943.5,1673.5 943.8,1669.5 944.2,1666.4C944.6,1663.3 945.0,1661.1 945.4,1658.4C945.9,1655.7 946.6,1653.0 947.0,1650.3C947.5,1647.7 947.6,1645.0 948.1,1642.3C948.6,1639.6 949.4,1636.7 950.0,1634.3C950.6,1631.9 951.1,1630.0 951.6,1627.9C952.1,1625.7 952.5,1623.1 953.2,1621.4C953.8,1619.8 954.8,1618.2 955.6,1618.2C956.4,1618.2 957.3,1619.8 957.9,1621.4C958.6,1623.1 958.8,1625.7 959.2,1627.9C959.7,1630.0 960.1,1631.9 960.5,1634.3C961.0,1636.7 961.6,1639.6 961.9,1642.3C962.2,1645.0 962.3,1647.7 962.4,1650.3C962.5,1653.0 962.6,1655.7 962.7,1658.4C962.8,1661.1 963.0,1663.3 963.2,1666.4C963.4,1669.5 963.5,1673.5 963.7,1677.0C963.9,1680.6 964.1,1683.8 964.3,1687.8C964.5,1691.8 964.6,1696.7 964.8,1701.1C965.0,1705.6 965.0,1710.1 965.3,1714.6C965.5,1719.0 966.1,1723.7 966.4,1727.9C966.7,1732.1 966.8,1734.9 967.0,1739.7C967.2,1744.4 967.5,1750.8 967.7,1756.3C967.8,1761.9 967.7,1767.5 968.0,1773.1C968.2,1778.7 968.7,1784.3 969.0,1789.8C969.2,1795.4 969.4,1800.9 969.6,1806.5C969.9,1812.1 969.9,1817.7 970.2,1823.3C970.6,1828.9 971.3,1834.5 971.6,1840.0C972.0,1845.6 972.0,1851.1 972.2,1856.7C972.4,1862.3 972.7,1867.3 972.9,1873.4C973.2,1879.6 973.3,1886.8 973.6,1893.5C973.9,1900.2 974.3,1906.9 974.6,1913.6C974.9,1920.3 975.3,1927.0 975.6,1933.7C975.9,1940.4 976.3,1947.0 976.6,1953.7C976.9,1960.4 977.3,1967.1 977.6,1973.8C977.9,1980.5 977.8,1988.3 978.2,1993.9C978.6,1999.4 979.4,2002.2 979.9,2007.2C980.3,2012.2 980.6,2019.5 980.9,2024.0C981.1,2028.5 981.1,2029.0 981.4,2034.0C981.6,2039.0 981.9,2047.4 982.3,2054.1C982.8,2060.8 983.2,2067.5 983.8,2074.2C984.5,2080.9 985.5,2087.5 986.3,2094.2C987.1,2100.9 987.8,2107.6 988.8,2114.3C989.8,2121.0 990.9,2128.0 992.3,2134.4C993.6,2140.7 995.2,2147.1 996.7,2152.4C998.3,2157.8 999.9,2162.5 1001.7,2166.5C1003.5,2170.5 1005.3,2173.5 1007.6,2176.5C1010.0,2179.5 1011.9,2182.2 1015.6,2184.6C1019.2,2186.9 1024.7,2189.2 1029.5,2190.6C1034.3,2192.0 1039.4,2192.4 1044.4,2193.1C1049.3,2193.8 1053.4,2194.2 1059.2,2194.6C1065.0,2195.0 1072.1,2195.3 1079.1,2195.6C1086.0,2195.8 1097.3,2196.0 1100.9,2196.1" stroke="#0000d2" stroke-width="4.4" fill="none" stroke-linejoin="round" stroke-linecap="butt"/>
<path d="M515.5,2149.3C517.8,2149.6 523.0,2151.7 529.3,2151.3C535.6,2150.9 546.0,2147.5 553.3,2146.7C560.6,2145.9 567.7,2146.3 573.3,2146.7C578.9,2147.1 576.7,2148.9 586.7,2149.3C596.7,2149.7 621.1,2148.7 633.3,2149.3C645.5,2149.9 650.5,2151.5 660.0,2152.7C669.5,2153.8 678.0,2154.8 690.0,2156.2C702.0,2157.6 718.0,2159.6 732.0,2161.1C746.0,2162.6 760.0,2163.9 774.0,2165.3C788.0,2166.7 802.0,2168.4 816.0,2169.5C830.0,2170.6 845.7,2171.1 858.0,2171.6C870.3,2172.1 877.5,2172.1 890.0,2172.7C902.5,2173.3 921.0,2174.4 933.0,2175.1C945.0,2175.8 954.5,2176.2 961.7,2177.0C968.9,2177.8 968.8,2179.1 976.0,2180.2C983.2,2181.3 992.8,2182.8 1004.7,2183.7C1016.7,2184.6 1031.7,2185.3 1047.7,2185.9C1063.7,2186.5 1091.9,2187.1 1100.7,2187.3" stroke="#dc0000" stroke-width="3.9" fill="none" stroke-linejoin="round" stroke-linecap="butt"/>
<path d="M515.5,2180.0C517.8,2180.3 522.1,2181.6 529.3,2181.6C536.5,2181.6 550.2,2179.9 558.7,2180.0C567.2,2180.1 567.6,2181.4 580.0,2182.0C592.4,2182.6 615.0,2182.6 633.3,2183.3C651.6,2184.0 671.2,2185.6 690.0,2186.2C708.8,2186.8 727.3,2186.6 746.0,2186.9C764.7,2187.2 785.7,2188.1 802.0,2188.3C818.3,2188.5 829.3,2188.6 844.0,2188.3C858.7,2188.1 877.5,2187.0 890.0,2186.8C902.5,2186.6 911.5,2187.4 918.7,2187.2C925.9,2187.0 925.8,2185.9 933.0,2185.7C940.2,2185.5 953.3,2185.3 961.7,2186.2C970.1,2187.0 973.7,2189.8 983.2,2190.8C992.8,2191.8 999.4,2191.8 1019.0,2192.2C1038.6,2192.5 1087.1,2192.8 1100.7,2192.9" stroke="#006018" stroke-width="3.9" fill="none" stroke-linejoin="round" stroke-linecap="butt"/>
<path d="M515.5,2178.0C517.8,2178.3 522.1,2179.6 529.3,2179.6C536.5,2179.6 550.2,2177.9 558.7,2178.0C567.2,2178.1 567.6,2179.4 580.0,2180.0C592.4,2180.6 615.0,2180.6 633.3,2181.3C651.6,2182.0 671.2,2183.6 690.0,2184.2C708.8,2184.8 727.3,2184.6 746.0,2184.9C764.7,2185.2 785.7,2186.1 802.0,2186.3C818.3,2186.5 829.3,2186.6 844.0,2186.3C858.7,2186.1 877.5,2185.0 890.0,2184.8C902.5,2184.6 911.5,2185.4 918.7,2185.2C925.9,2185.0 925.8,2183.9 933.0,2183.7C940.2,2183.5 953.3,2183.3 961.7,2184.2C970.1,2185.0 973.7,2187.8 983.2,2188.8C992.8,2189.8 999.4,2189.8 1019.0,2190.2C1038.6,2190.5 1087.1,2190.8 1100.7,2190.9" stroke="#000000" stroke-width="3.9" fill="none" stroke-linejoin="round" stroke-linecap="butt"/>
<path d="M515.5,2185.3C517.8,2185.5 522.1,2186.9 529.3,2186.7C536.5,2186.5 548.0,2183.9 558.7,2184.0C569.4,2184.1 580.9,2186.4 593.3,2187.3C605.7,2188.2 617.2,2189.0 633.3,2189.3C649.4,2189.6 668.9,2188.9 690.0,2189.1C711.1,2189.3 736.7,2190.3 760.0,2190.5C783.3,2190.7 806.7,2190.7 830.0,2190.5C853.3,2190.3 878.0,2189.4 900.0,2189.1C922.0,2188.8 947.8,2187.8 961.7,2188.5C975.6,2189.2 971.3,2192.1 983.2,2193.1C995.1,2194.1 1013.7,2194.3 1033.3,2194.5C1052.9,2194.7 1089.5,2194.5 1100.7,2194.5" stroke="#604a42" stroke-width="3.9" fill="none" stroke-linejoin="round" stroke-linecap="butt"/>
<path d="M515.5,2183.3C522.7,2183.2 539.1,2182.2 558.7,2182.7C578.3,2183.1 611.4,2185.1 633.3,2186.0C655.2,2186.9 668.9,2187.3 690.0,2188.0C711.1,2188.7 736.7,2189.7 760.0,2190.0C783.3,2190.3 808.3,2190.2 830.0,2190.0C851.7,2189.8 868.0,2188.9 890.0,2188.5C912.0,2188.1 946.2,2187.1 961.7,2187.8C977.2,2188.5 971.3,2191.5 983.2,2192.5C995.1,2193.5 1013.7,2193.8 1033.3,2194.0C1052.9,2194.2 1089.5,2194.0 1100.7,2194.0" stroke="#ee0088" stroke-width="2.6" fill="none" stroke-linejoin="round" stroke-linecap="butt"/>
<path d="M515.5,2168.7C517.8,2169.0 522.1,2171.0 529.3,2170.7C536.5,2170.4 550.2,2166.8 558.7,2166.7C567.2,2166.6 567.6,2169.3 580.0,2170.0C592.4,2170.7 620.0,2170.4 633.3,2170.7C646.6,2171.0 650.5,2171.3 660.0,2172.0C669.5,2172.7 678.0,2173.8 690.0,2174.7C702.0,2175.6 718.0,2176.5 732.0,2177.2C746.0,2177.8 760.0,2178.1 774.0,2178.6C788.0,2179.1 802.0,2179.9 816.0,2180.0C830.0,2180.1 845.7,2179.0 858.0,2178.9C870.3,2178.8 872.7,2179.1 890.0,2179.4C907.3,2179.7 945.0,2179.8 961.7,2180.9C978.4,2182.0 978.4,2184.8 990.3,2185.9C1002.2,2187.0 1014.9,2187.0 1033.3,2187.3C1051.7,2187.7 1089.5,2187.9 1100.7,2188.0" stroke="#f06a10" stroke-width="3.9" fill="none" stroke-linejoin="round" stroke-linecap="butt"/>
<path d="M175.3,387.3V495.8M168.0,479.3L175.3,495.8L182.60000000000002,479.3" stroke="#000" stroke-width="1.5" fill="none"/>
<path d="M559.2,288.0V523.8M551.9000000000001,507.29999999999995L559.2,523.8L566.5,507.29999999999995" stroke="#000" stroke-width="1.5" fill="none"/>
<path d="M938.5,385.5V493.6M931.2,477.1L938.5,493.6L945.8,477.1" stroke="#000" stroke-width="1.5" fill="none"/>
<path d="M1322.4,286.2V520.3M1315.1000000000001,503.79999999999995L1322.4,520.3L1329.7,503.79999999999995" stroke="#000" stroke-width="1.5" fill="none"/>
<path d="M173.5,1179.1V1350.3M166.2,1333.8L173.5,1350.3L180.8,1333.8" stroke="#000" stroke-width="1.5" fill="none"/>
<path d="M557.5,1059.2V1300.1M550.2,1283.6L557.5,1300.1L564.8,1283.6" stroke="#000" stroke-width="1.5" fill="none"/>
<path d="M938.6,1187.2V1352.8M931.3000000000001,1336.3L938.6,1352.8L945.9,1336.3" stroke="#000" stroke-width="1.5" fill="none"/>
<path d="M1322.4,1070.1V1304.6M1315.1000000000001,1288.1L1322.4,1304.6L1329.7,1288.1" stroke="#000" stroke-width="1.5" fill="none"/>
<path d="M558.4,1955.7V2122.8M551.1,2106.3L558.4,2122.8L565.6999999999999,2106.3" stroke="#000" stroke-width="1.5" fill="none"/>
<path d="M939.3,1861.3V2097.9M932.0,2081.4L939.3,2097.9L946.5999999999999,2081.4" stroke="#000" stroke-width="1.5" fill="none"/>
<polygon points="356.0,41.2 361.5,46.7 361.5,262.9 102.6,262.9 97.1,257.4" fill="#000"/>
<rect x="97.1" y="41.2" width="258.9" height="216.2" fill="#fff" stroke="#000" stroke-width="2"/>
<line x1="110.2" y1="63.5" x2="173.1" y2="63.5" stroke="#0000d2" stroke-width="4.2"/>
<text x="179.03" y="73.50" font-size="24.5" fill="#0000d2" textLength="93.33" lengthAdjust="spacingAndGlyphs">t = 0 min</text>
<line x1="110.2" y1="91.6" x2="173.1" y2="91.6" stroke="#dc0000" stroke-width="3.6"/>
<text x="179.03" y="101.80" font-size="24.5" fill="#dc0000" textLength="160.77" lengthAdjust="spacingAndGlyphs">t =30 min/Dark</text>
<line x1="110.2" y1="120.5" x2="173.1" y2="120.5" stroke="#006018" stroke-width="3.0"/>
<text x="179.03" y="130.60" font-size="24.5" fill="#006018" textLength="147.86" lengthAdjust="spacingAndGlyphs">t = 30 min/UV</text>
<line x1="110.2" y1="148.3" x2="173.1" y2="148.3" stroke="#000000" stroke-width="3.0"/>
<text x="179.03" y="158.60" font-size="24.5" fill="#000000" textLength="147.86" lengthAdjust="spacingAndGlyphs">t = 60 min/UV</text>
<line x1="110.2" y1="177.2" x2="173.1" y2="177.2" stroke="#ee0088" stroke-width="3.5"/>
<text x="179.03" y="187.20" font-size="24.5" fill="#ee0088" textLength="147.86" lengthAdjust="spacingAndGlyphs">t = 90 min/UV</text>
<line x1="110.2" y1="204.9" x2="173.1" y2="204.9" stroke="#604a42" stroke-width="3.0"/>
<text x="179.03" y="215.30" font-size="24.5" fill="#604a42" textLength="159.86" lengthAdjust="spacingAndGlyphs">t = 120 min/UV</text>
<line x1="110.2" y1="233.8" x2="173.1" y2="233.8" stroke="#ff8418" stroke-width="3.5"/>
<text x="179.03" y="244.00" font-size="24.5" fill="#ff8418" textLength="159.86" lengthAdjust="spacingAndGlyphs">t = 150 min/UV</text>
<polygon points="1113.6,22.5 1119.1,28.0 1119.1,243.0 861.5,243.0 856.0,237.5" fill="#000"/>
<rect x="856.0" y="22.5" width="257.6" height="215.0" fill="#fff" stroke="#000" stroke-width="2"/>
<line x1="867.7" y1="44.9" x2="931.2" y2="44.9" stroke="#0000d2" stroke-width="3.3"/>
<text x="937.34" y="55.10" font-size="24.5" fill="#0000d2" textLength="92.22" lengthAdjust="spacingAndGlyphs">t = 0 min</text>
<line x1="867.7" y1="73.2" x2="931.2" y2="73.2" stroke="#dc0000" stroke-width="3.3"/>
<text x="937.33" y="83.10" font-size="24.5" fill="#dc0000" textLength="166.56" lengthAdjust="spacingAndGlyphs">t = 30 min/Dark</text>
<line x1="867.7" y1="101.2" x2="931.2" y2="101.2" stroke="#006018" stroke-width="3.3"/>
<text x="937.34" y="111.10" font-size="24.5" fill="#006018" textLength="146.26" lengthAdjust="spacingAndGlyphs">t = 30 min/UV</text>
<line x1="867.7" y1="129.8" x2="931.2" y2="129.8" stroke="#000000" stroke-width="3.3"/>
<text x="937.34" y="139.70" font-size="24.5" fill="#000000" textLength="146.26" lengthAdjust="spacingAndGlyphs">t = 60 min/UV</text>
<line x1="867.7" y1="157.8" x2="931.2" y2="157.8" stroke="#ee0088" stroke-width="3.3"/>
<text x="937.34" y="168.00" font-size="24.5" fill="#ee0088" textLength="146.26" lengthAdjust="spacingAndGlyphs">t = 90 min/UV</text>
<line x1="867.7" y1="185.8" x2="931.2" y2="185.8" stroke="#604a42" stroke-width="3.3"/>
<text x="937.33" y="195.70" font-size="24.5" fill="#604a42" textLength="159.36" lengthAdjust="spacingAndGlyphs">t = 120 min/UV</text>
<line x1="867.7" y1="214.7" x2="931.2" y2="214.7" stroke="#ff8418" stroke-width="3.3"/>
<text x="937.33" y="224.10" font-size="24.5" fill="#ff8418" textLength="159.36" lengthAdjust="spacingAndGlyphs">t = 150 min/UV</text>
<polygon points="349.2,792.7 354.7,798.2 354.7,1017.1 89.2,1017.1 83.7,1011.6" fill="#000"/>
<rect x="83.7" y="792.7" width="265.5" height="218.9" fill="#fff" stroke="#000" stroke-width="2"/>
<line x1="96.7" y1="815.0" x2="160.1" y2="815.0" stroke="#0000d2" stroke-width="3.3"/>
<text x="165.93" y="825.60" font-size="24.5" fill="#0000d2" textLength="95.04" lengthAdjust="spacingAndGlyphs">t = 0 min</text>
<line x1="96.7" y1="843.4" x2="160.1" y2="843.4" stroke="#dc0000" stroke-width="3.3"/>
<text x="165.92" y="853.60" font-size="24.5" fill="#dc0000" textLength="172.38" lengthAdjust="spacingAndGlyphs">t = 30 min/Dark</text>
<line x1="96.7" y1="873.4" x2="160.1" y2="873.4" stroke="#006018" stroke-width="3.3"/>
<text x="165.92" y="883.20" font-size="24.5" fill="#006018" textLength="151.08" lengthAdjust="spacingAndGlyphs">t = 30 min/UV</text>
<line x1="96.7" y1="902.0" x2="160.1" y2="902.0" stroke="#000000" stroke-width="3.3"/>
<text x="165.92" y="912.60" font-size="24.5" fill="#000000" textLength="151.08" lengthAdjust="spacingAndGlyphs">t = 60 min/UV</text>
<line x1="96.7" y1="931.0" x2="160.1" y2="931.0" stroke="#ee0088" stroke-width="3.3"/>
<text x="165.92" y="940.60" font-size="24.5" fill="#ee0088" textLength="151.08" lengthAdjust="spacingAndGlyphs">t = 90 min/UV</text>
<line x1="96.7" y1="960.4" x2="160.1" y2="960.4" stroke="#604a42" stroke-width="3.3"/>
<text x="165.92" y="970.60" font-size="24.5" fill="#604a42" textLength="164.58" lengthAdjust="spacingAndGlyphs">t = 120 min/UV</text>
<line x1="96.7" y1="989.0" x2="160.1" y2="989.0" stroke="#f06a10" stroke-width="3.3"/>
<text x="165.92" y="999.20" font-size="24.5" fill="#f06a10" textLength="164.58" lengthAdjust="spacingAndGlyphs">t = 150 min/UV</text>
<polygon points="1113.8,810.8 1119.3,816.3 1119.3,1031.4 861.5,1031.4 856.0,1025.9" fill="#000"/>
<rect x="856.0" y="810.8" width="257.8" height="215.1" fill="#fff" stroke="#000" stroke-width="2"/>
<line x1="867.7" y1="833.2" x2="931.2" y2="833.2" stroke="#0000d2" stroke-width="4.0"/>
<text x="937.34" y="842.90" font-size="24.5" fill="#0000d2" textLength="92.22" lengthAdjust="spacingAndGlyphs">t = 0 min</text>
<line x1="867.7" y1="860.7" x2="931.2" y2="860.7" stroke="#dc0000" stroke-width="1.2"/>
<text x="937.33" y="870.90" font-size="24.5" fill="#dc0000" textLength="166.56" lengthAdjust="spacingAndGlyphs">t = 30 min/Dark</text>
<line x1="867.7" y1="889.2" x2="931.2" y2="889.2" stroke="#006018" stroke-width="3.3"/>
<text x="937.34" y="898.40" font-size="24.5" fill="#006018" textLength="146.26" lengthAdjust="spacingAndGlyphs">t = 30 min/UV</text>
<line x1="867.7" y1="917.6" x2="931.2" y2="917.6" stroke="#000000" stroke-width="3.3"/>
<text x="937.34" y="927.50" font-size="24.5" fill="#000000" textLength="146.26" lengthAdjust="spacingAndGlyphs">t = 60 min/UV</text>
<line x1="867.7" y1="945.6" x2="931.2" y2="945.6" stroke="#ee0088" stroke-width="3.3"/>
<text x="937.34" y="954.90" font-size="24.5" fill="#ee0088" textLength="146.26" lengthAdjust="spacingAndGlyphs">t = 90 min/UV</text>
<line x1="867.7" y1="974.0" x2="931.2" y2="974.0" stroke="#604a42" stroke-width="3.3"/>
<text x="937.33" y="983.30" font-size="24.5" fill="#604a42" textLength="159.36" lengthAdjust="spacingAndGlyphs">t = 120 min/UV</text>
<line x1="867.7" y1="1002.5" x2="931.2" y2="1002.5" stroke="#f06a10" stroke-width="3.3"/>
<text x="937.33" y="1011.90" font-size="24.5" fill="#f06a10" textLength="159.36" lengthAdjust="spacingAndGlyphs">t = 150 min/UV</text>
<polygon points="726.6,1596.2 732.1,1601.7 732.1,1817.9 474.8,1817.9 469.3,1812.4" fill="#000"/>
<rect x="469.3" y="1596.2" width="257.3" height="216.2" fill="#fff" stroke="#000" stroke-width="2"/>
<line x1="480.9" y1="1619.0" x2="544.4" y2="1619.0" stroke="#0000d2" stroke-width="3.3"/>
<text x="550.14" y="1628.90" font-size="24.5" fill="#0000d2" textLength="92.83" lengthAdjust="spacingAndGlyphs">t = 0 min</text>
<line x1="480.9" y1="1647.5" x2="544.4" y2="1647.5" stroke="#dc0000" stroke-width="3.3"/>
<text x="550.13" y="1656.50" font-size="24.5" fill="#dc0000" textLength="167.07" lengthAdjust="spacingAndGlyphs">t = 30 min/Dark</text>
<line x1="480.9" y1="1675.9" x2="544.4" y2="1675.9" stroke="#006018" stroke-width="3.3"/>
<text x="550.13" y="1684.90" font-size="24.5" fill="#006018" textLength="147.26" lengthAdjust="spacingAndGlyphs">t = 30 min/UV</text>
<line x1="480.9" y1="1703.5" x2="544.4" y2="1703.5" stroke="#000000" stroke-width="3.3"/>
<text x="550.13" y="1713.40" font-size="24.5" fill="#000000" textLength="147.26" lengthAdjust="spacingAndGlyphs">t = 60 min/UV</text>
<line x1="480.9" y1="1733.0" x2="544.4" y2="1733.0" stroke="#ee0088" stroke-width="3.3"/>
<text x="550.13" y="1742.70" font-size="24.5" fill="#ee0088" textLength="147.26" lengthAdjust="spacingAndGlyphs">t = 90 min/UV</text>
<line x1="480.9" y1="1761.0" x2="544.4" y2="1761.0" stroke="#604a42" stroke-width="3.3"/>
<text x="550.13" y="1770.70" font-size="24.5" fill="#604a42" textLength="159.96" lengthAdjust="spacingAndGlyphs">t = 120 min/UV</text>
<line x1="480.9" y1="1789.8" x2="544.4" y2="1789.8" stroke="#f06a10" stroke-width="3.3"/>
<text x="550.13" y="1798.70" font-size="24.5" fill="#f06a10" textLength="159.96" lengthAdjust="spacingAndGlyphs">t = 150 min/UV</text>
<text x="429.63" y="47.20" font-size="35.0" fill="#000" textLength="43.30" lengthAdjust="spacingAndGlyphs">(a)</text>
<text x="411.35" y="107.80" font-size="36.3" fill="#000" textLength="107.70" lengthAdjust="spacingAndGlyphs">Pure Z</text>
<text x="1207.06" y="56.80" font-size="33.7" fill="#000" textLength="44.48" lengthAdjust="spacingAndGlyphs">(b)</text>
<text x="1145.27" y="98.80" font-size="36.1" fill="#000" textLength="164.56" lengthAdjust="spacingAndGlyphs">0.005 CAZ</text>
<text x="415.82" y="823.30" font-size="35.0" fill="#000" textLength="41.35" lengthAdjust="spacingAndGlyphs">(c)</text>
<text x="383.72" y="874.00" font-size="37.7" fill="#000" textLength="152.18" lengthAdjust="spacingAndGlyphs">0.01 CAZ</text>
<text x="1203.59" y="840.60" font-size="33.8" fill="#000" textLength="43.72" lengthAdjust="spacingAndGlyphs">(d)</text>
<text x="1157.57" y="893.50" font-size="36.5" fill="#000" textLength="147.07" lengthAdjust="spacingAndGlyphs">0.05 CAZ</text>
<text x="806.16" y="1621.40" font-size="33.7" fill="#000" textLength="40.37" lengthAdjust="spacingAndGlyphs">(e)</text>
<text x="749.67" y="1676.60" font-size="37.1" fill="#000" textLength="146.97" lengthAdjust="spacingAndGlyphs">0.10 CAZ</text>
<text x="309.63" y="715.00" font-size="24.5" fill="#000" textLength="180.07" lengthAdjust="spacingAndGlyphs">Wavelength (nm)</text>
<text x="1072.93" y="713.70" font-size="24.5" fill="#000" textLength="179.87" lengthAdjust="spacingAndGlyphs">Wavelength (nm)</text>
<text x="305.72" y="1500.00" font-size="25.5" fill="#000" textLength="187.43" lengthAdjust="spacingAndGlyphs">Wavelength (nm)</text>
<text x="1072.93" y="1499.70" font-size="24.5" fill="#000" textLength="180.17" lengthAdjust="spacingAndGlyphs">Wavelength (nm)</text>
<text x="691.93" y="2292.50" font-size="24.5" fill="#000" textLength="180.17" lengthAdjust="spacingAndGlyphs">Wavelength (nm)</text>
<text transform="translate(19.30,389.40) rotate(-90)" x="-0.25" y="0" font-size="24.5" fill="#000" textLength="125.47" lengthAdjust="spacingAndGlyphs">Absorbance</text>
<text transform="translate(780.00,387.10) rotate(-90)" x="-0.24" y="0" font-size="24.5" fill="#000" textLength="124.76" lengthAdjust="spacingAndGlyphs">Absorbance</text>
<text transform="translate(17.40,1163.50) rotate(-90)" x="-0.26" y="0" font-size="26.2" fill="#000" textLength="133.92" lengthAdjust="spacingAndGlyphs">Absorbance</text>
<text transform="translate(780.00,1171.70) rotate(-90)" x="-0.25" y="0" font-size="24.5" fill="#000" textLength="125.37" lengthAdjust="spacingAndGlyphs">Absorbance</text>
<text transform="translate(395.80,1964.00) rotate(-90)" x="-0.25" y="0" font-size="24.5" fill="#000" textLength="127.08" lengthAdjust="spacingAndGlyphs">Absorbance</text>
</svg>
</body></html>
